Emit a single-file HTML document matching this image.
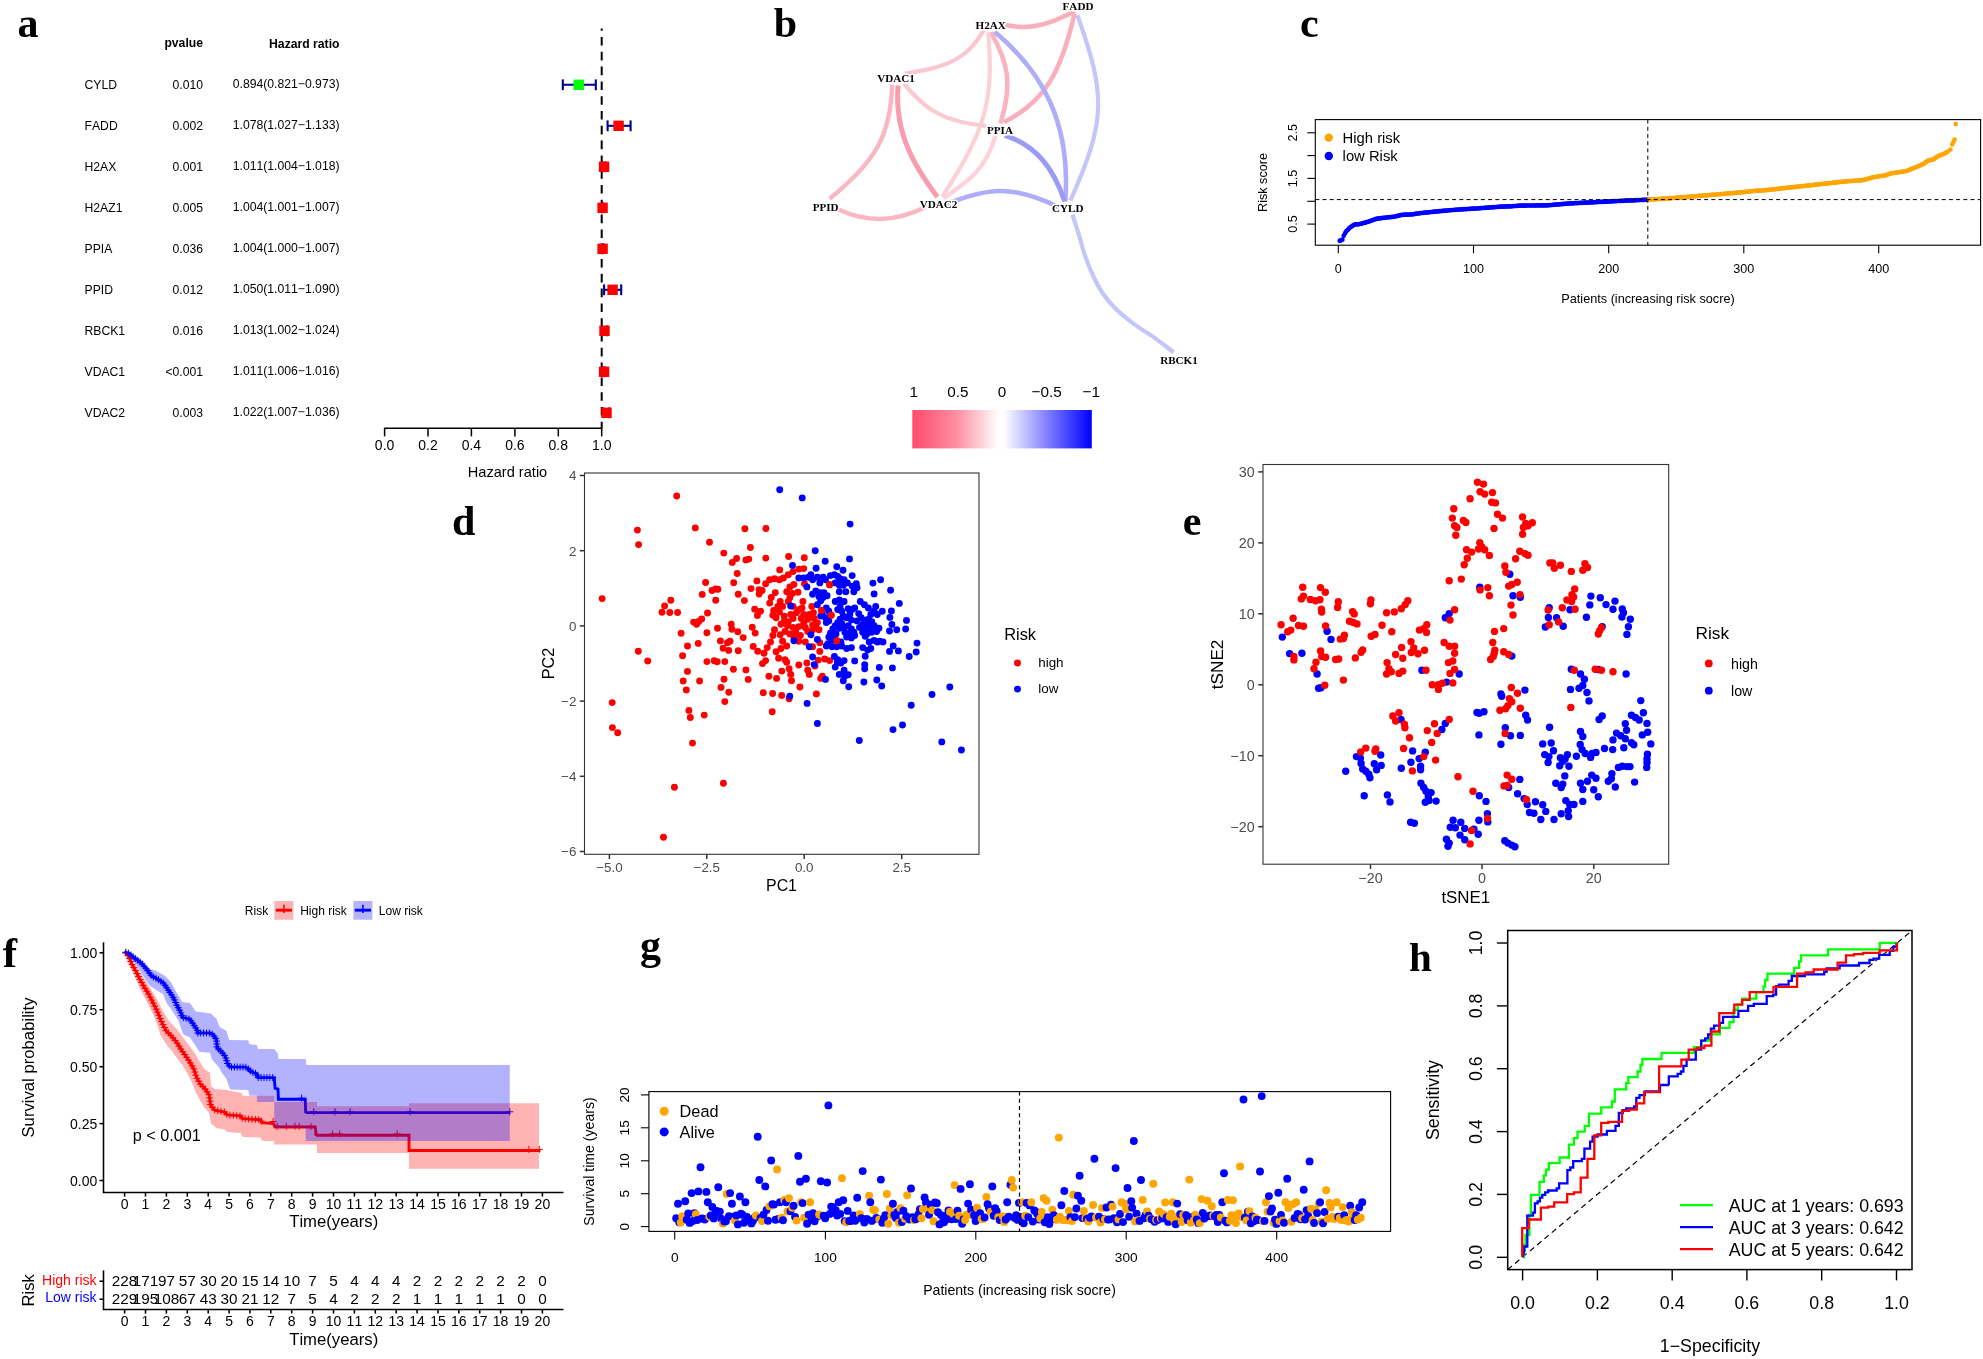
<!DOCTYPE html>
<html lang="en"><head><meta charset="utf-8"><title>Figure</title>
<style>html,body{margin:0;padding:0;background:#fff}svg{display:block}</style></head>
<body>
<svg width="1983" height="1359" viewBox="0 0 1983 1359" font-family='"Liberation Sans", Arial, Helvetica, sans-serif' font-size="12" style="font-kerning:none">
<g id="panel-a">
<text x="17.6" y="36.9" font-size="42" font-weight="bold" font-family='"Liberation Serif", "Times New Roman", serif'>a</text>
<text x="203" y="47" font-size="12.2" text-anchor="end" font-weight="bold">pvalue</text>
<text x="339.5" y="48" font-size="12.2" text-anchor="end" font-weight="bold">Hazard ratio</text>
<text x="84.5" y="89.2" font-size="12.2">CYLD</text>
<text x="203" y="89.2" font-size="12.2" text-anchor="end">0.010</text>
<text x="339.5" y="88.4" font-size="12.2" text-anchor="end">0.894(0.821−0.973)</text>
<text x="84.5" y="130.2" font-size="12.2">FADD</text>
<text x="203" y="130.2" font-size="12.2" text-anchor="end">0.002</text>
<text x="339.5" y="129.4" font-size="12.2" text-anchor="end">1.078(1.027−1.133)</text>
<text x="84.5" y="171.2" font-size="12.2">H2AX</text>
<text x="203" y="171.2" font-size="12.2" text-anchor="end">0.001</text>
<text x="339.5" y="170.4" font-size="12.2" text-anchor="end">1.011(1.004−1.018)</text>
<text x="84.5" y="212.2" font-size="12.2">H2AZ1</text>
<text x="203" y="212.2" font-size="12.2" text-anchor="end">0.005</text>
<text x="339.5" y="211.4" font-size="12.2" text-anchor="end">1.004(1.001−1.007)</text>
<text x="84.5" y="253.2" font-size="12.2">PPIA</text>
<text x="203" y="253.2" font-size="12.2" text-anchor="end">0.036</text>
<text x="339.5" y="252.4" font-size="12.2" text-anchor="end">1.004(1.000−1.007)</text>
<text x="84.5" y="294.2" font-size="12.2">PPID</text>
<text x="203" y="294.2" font-size="12.2" text-anchor="end">0.012</text>
<text x="339.5" y="293.4" font-size="12.2" text-anchor="end">1.050(1.011−1.090)</text>
<text x="84.5" y="335.2" font-size="12.2">RBCK1</text>
<text x="203" y="335.2" font-size="12.2" text-anchor="end">0.016</text>
<text x="339.5" y="334.4" font-size="12.2" text-anchor="end">1.013(1.002−1.024)</text>
<text x="84.5" y="376.2" font-size="12.2">VDAC1</text>
<text x="203" y="376.2" font-size="12.2" text-anchor="end">&lt;0.001</text>
<text x="339.5" y="375.4" font-size="12.2" text-anchor="end">1.011(1.006−1.016)</text>
<text x="84.5" y="417.2" font-size="12.2">VDAC2</text>
<text x="203" y="417.2" font-size="12.2" text-anchor="end">0.003</text>
<text x="339.5" y="416.4" font-size="12.2" text-anchor="end">1.022(1.007−1.036)</text>
<line x1="601.7" y1="28.5" x2="601.7" y2="428" stroke="#000" stroke-width="2" stroke-dasharray="8.6 6.2" stroke-dashoffset="6.3"/>
<line x1="562.8" y1="84.8" x2="595.8" y2="84.8" stroke="#00008B" stroke-width="2.1"/>
<line x1="562.8" y1="79.4" x2="562.8" y2="90.2" stroke="#00008B" stroke-width="2.1"/>
<line x1="595.8" y1="79.4" x2="595.8" y2="90.2" stroke="#00008B" stroke-width="2.1"/>
<rect x="573.5" y="79.6" width="10.4" height="10.4" fill="#00FF00"/>
<line x1="607.6" y1="125.8" x2="630.6" y2="125.8" stroke="#00008B" stroke-width="2.1"/>
<line x1="607.6" y1="120.4" x2="607.6" y2="131.2" stroke="#00008B" stroke-width="2.1"/>
<line x1="630.6" y1="120.4" x2="630.6" y2="131.2" stroke="#00008B" stroke-width="2.1"/>
<rect x="613.4" y="120.6" width="10.4" height="10.4" fill="#FF0000"/>
<line x1="602.6" y1="166.8" x2="605.6" y2="166.8" stroke="#00008B" stroke-width="2.1"/>
<line x1="602.6" y1="161.4" x2="602.6" y2="172.2" stroke="#00008B" stroke-width="2.1"/>
<line x1="605.6" y1="161.4" x2="605.6" y2="172.2" stroke="#00008B" stroke-width="2.1"/>
<rect x="598.9" y="161.6" width="10.4" height="10.4" fill="#FF0000"/>
<line x1="601.9" y1="207.8" x2="603.2" y2="207.8" stroke="#00008B" stroke-width="2.1"/>
<line x1="601.9" y1="202.4" x2="601.9" y2="213.2" stroke="#00008B" stroke-width="2.1"/>
<line x1="603.2" y1="202.4" x2="603.2" y2="213.2" stroke="#00008B" stroke-width="2.1"/>
<rect x="597.4" y="202.6" width="10.4" height="10.4" fill="#FF0000"/>
<line x1="601.7" y1="248.8" x2="603.2" y2="248.8" stroke="#00008B" stroke-width="2.1"/>
<line x1="601.7" y1="243.4" x2="601.7" y2="254.2" stroke="#00008B" stroke-width="2.1"/>
<line x1="603.2" y1="243.4" x2="603.2" y2="254.2" stroke="#00008B" stroke-width="2.1"/>
<rect x="597.4" y="243.6" width="10.4" height="10.4" fill="#FF0000"/>
<line x1="604.1" y1="289.8" x2="621.2" y2="289.8" stroke="#00008B" stroke-width="2.1"/>
<line x1="604.1" y1="284.4" x2="604.1" y2="295.2" stroke="#00008B" stroke-width="2.1"/>
<line x1="621.2" y1="284.4" x2="621.2" y2="295.2" stroke="#00008B" stroke-width="2.1"/>
<rect x="607.4" y="284.6" width="10.4" height="10.4" fill="#FF0000"/>
<line x1="602.1" y1="330.8" x2="606.9" y2="330.8" stroke="#00008B" stroke-width="2.1"/>
<line x1="602.1" y1="325.4" x2="602.1" y2="336.2" stroke="#00008B" stroke-width="2.1"/>
<line x1="606.9" y1="325.4" x2="606.9" y2="336.2" stroke="#00008B" stroke-width="2.1"/>
<rect x="599.3" y="325.6" width="10.4" height="10.4" fill="#FF0000"/>
<line x1="603" y1="371.8" x2="605.2" y2="371.8" stroke="#00008B" stroke-width="2.1"/>
<line x1="603" y1="366.4" x2="603" y2="377.2" stroke="#00008B" stroke-width="2.1"/>
<line x1="605.2" y1="366.4" x2="605.2" y2="377.2" stroke="#00008B" stroke-width="2.1"/>
<rect x="598.9" y="366.6" width="10.4" height="10.4" fill="#FF0000"/>
<line x1="603.2" y1="412.8" x2="609.5" y2="412.8" stroke="#00008B" stroke-width="2.1"/>
<line x1="603.2" y1="407.4" x2="603.2" y2="418.2" stroke="#00008B" stroke-width="2.1"/>
<line x1="609.5" y1="407.4" x2="609.5" y2="418.2" stroke="#00008B" stroke-width="2.1"/>
<rect x="601.3" y="407.6" width="10.4" height="10.4" fill="#FF0000"/>
<line x1="383.9" y1="428.3" x2="602.4" y2="428.3" stroke="#000" stroke-width="1.5"/>
<line x1="384.6" y1="428.3" x2="384.6" y2="436.4" stroke="#000" stroke-width="1.5"/>
<text x="384.6" y="450.2" font-size="14" text-anchor="middle">0.0</text>
<line x1="428" y1="428.3" x2="428" y2="436.4" stroke="#000" stroke-width="1.5"/>
<text x="428" y="450.2" font-size="14" text-anchor="middle">0.2</text>
<line x1="471.4" y1="428.3" x2="471.4" y2="436.4" stroke="#000" stroke-width="1.5"/>
<text x="471.4" y="450.2" font-size="14" text-anchor="middle">0.4</text>
<line x1="514.9" y1="428.3" x2="514.9" y2="436.4" stroke="#000" stroke-width="1.5"/>
<text x="514.9" y="450.2" font-size="14" text-anchor="middle">0.6</text>
<line x1="558.3" y1="428.3" x2="558.3" y2="436.4" stroke="#000" stroke-width="1.5"/>
<text x="558.3" y="450.2" font-size="14" text-anchor="middle">0.8</text>
<line x1="601.7" y1="428.3" x2="601.7" y2="436.4" stroke="#000" stroke-width="1.5"/>
<text x="601.7" y="450.2" font-size="14" text-anchor="middle">1.0</text>
<text x="507.5" y="477" font-size="14.6" text-anchor="middle">Hazard ratio</text>
</g>
<g id="panel-b">
<text x="773.8" y="37.2" font-size="42" font-weight="bold" font-family='"Liberation Serif", "Times New Roman", serif'>b</text>
<g style="mix-blend-mode:multiply">
<path d="M1005.6 25 C1025.1 29.1 1043.7 27.9 1075 11" fill="none" stroke="#FAB0BC" stroke-width="4.6" stroke-linecap="butt"/>
<path d="M983.6 30.5 C969.2 55.8 952.3 66.8 904.9 73.6" fill="none" stroke="#FBC6CF" stroke-width="4.2" stroke-linecap="butt"/>
<path d="M892.2 84.6 C890.5 135.4 876.2 160.8 829.6 198.8" fill="none" stroke="#FAB6C1" stroke-width="4.4" stroke-linecap="butt"/>
<path d="M898.1 85.5 C893.9 135.4 916.8 169.2 937.4 197.1" fill="none" stroke="#F89DAD" stroke-width="5.0" stroke-linecap="butt"/>
<path d="M904.1 83.8 C926.9 111.7 943.8 121 986.1 126.1" fill="none" stroke="#FBC9D2" stroke-width="4.2" stroke-linecap="butt"/>
<path d="M990.9 32.2 C1009 64.3 1012.4 84.6 1000.5 123.5" fill="none" stroke="#FAB3BF" stroke-width="4.6" stroke-linecap="butt"/>
<path d="M988.2 32.2 C993.8 101.5 986.1 128.6 942.1 197.1" fill="none" stroke="#FCD0D7" stroke-width="4.2" stroke-linecap="butt"/>
<path d="M995.5 135.4 C986.1 169.2 969.2 180.2 943.8 198.3" fill="none" stroke="#FCD3DA" stroke-width="4.2" stroke-linecap="butt"/>
<path d="M1003.9 122.2 C1045.4 101.5 1061.4 71.1 1074.5 13.5" fill="none" stroke="#FAB0BC" stroke-width="4.6" stroke-linecap="butt"/>
<path d="M838.9 209.8 C867.7 222.5 894.8 222.5 926.1 206.8" fill="none" stroke="#FAB6C1" stroke-width="4.4" stroke-linecap="butt"/>
<path d="M994.6 31.8 C1043.7 72.8 1070.8 123.5 1065.3 201.4" fill="none" stroke="#AEADF7" stroke-width="4.6" stroke-linecap="butt"/>
<path d="M1004.8 135.4 C1036.9 145.5 1053.8 169.2 1064.8 201.4" fill="none" stroke="#9B9AF5" stroke-width="5.0" stroke-linecap="butt"/>
<path d="M947.2 203.6 C986.1 188.7 1011.5 183.6 1058.9 207.3" fill="none" stroke="#AEADF7" stroke-width="4.6" stroke-linecap="butt"/>
<path d="M1077.5 15.2 C1105.4 94.8 1107.1 118.5 1070.4 200.5" fill="none" stroke="#C6C5F9" stroke-width="4.2" stroke-linecap="butt"/>
</g>
<path d="M1072.5 214.6 C1073.4 217.7 1076.3 226.3 1078.4 233.1 C1080.5 240 1082.6 248.6 1085 255.6 C1087.5 262.7 1090.1 269.3 1093 275.5 C1095.8 281.7 1098.7 287.4 1102.3 292.7 C1105.8 298 1109.1 302.2 1114.2 307.3 C1119.2 312.4 1126.3 318.3 1132.7 323.2 C1139.1 328 1145.7 331.6 1152.6 336.4 C1159.4 341.3 1170.2 349.7 1173.8 352.3" fill="none" stroke="#C6C5F9" stroke-width="4.2"/>
<text x="1078" y="10.2" font-size="11.1" text-anchor="middle" font-weight="bold" font-family='"Liberation Serif", "Times New Roman", serif' stroke="#fff" stroke-width="3" paint-order="stroke" stroke-linejoin="round">FADD</text>
<text x="990.7" y="28.6" font-size="11.1" text-anchor="middle" font-weight="bold" font-family='"Liberation Serif", "Times New Roman", serif' stroke="#fff" stroke-width="3" paint-order="stroke" stroke-linejoin="round">H2AX</text>
<text x="896" y="82" font-size="11.1" text-anchor="middle" font-weight="bold" font-family='"Liberation Serif", "Times New Roman", serif' stroke="#fff" stroke-width="3" paint-order="stroke" stroke-linejoin="round">VDAC1</text>
<text x="1000" y="134.2" font-size="11.1" text-anchor="middle" font-weight="bold" font-family='"Liberation Serif", "Times New Roman", serif' stroke="#fff" stroke-width="3" paint-order="stroke" stroke-linejoin="round">PPIA</text>
<text x="825.6" y="211.1" font-size="11.1" text-anchor="middle" font-weight="bold" font-family='"Liberation Serif", "Times New Roman", serif' stroke="#fff" stroke-width="3" paint-order="stroke" stroke-linejoin="round">PPID</text>
<text x="938.5" y="207.6" font-size="11.1" text-anchor="middle" font-weight="bold" font-family='"Liberation Serif", "Times New Roman", serif' stroke="#fff" stroke-width="3" paint-order="stroke" stroke-linejoin="round">VDAC2</text>
<text x="1067.8" y="211.6" font-size="11.1" text-anchor="middle" font-weight="bold" font-family='"Liberation Serif", "Times New Roman", serif' stroke="#fff" stroke-width="3" paint-order="stroke" stroke-linejoin="round">CYLD</text>
<text x="1179" y="363.6" font-size="11.1" text-anchor="middle" font-weight="bold" font-family='"Liberation Serif", "Times New Roman", serif' stroke="#fff" stroke-width="3" paint-order="stroke" stroke-linejoin="round">RBCK1</text>
<defs><linearGradient id="cb" x1="0" x2="1" y1="0" y2="0"><stop offset="0" stop-color="#FF4B6C"/><stop offset="0.25" stop-color="#FC8FA2"/><stop offset="0.48" stop-color="#FFFFFF"/><stop offset="0.51" stop-color="#FFFFFF"/><stop offset="0.75" stop-color="#8080FF"/><stop offset="1" stop-color="#0000FF"/></linearGradient></defs>
<rect x="912.3" y="410" width="179.5" height="38.4" fill="url(#cb)"/>
<text x="913.8" y="396.7" font-size="15.3" text-anchor="middle">1</text>
<text x="958" y="396.7" font-size="15.3" text-anchor="middle">0.5</text>
<text x="1002" y="396.7" font-size="15.3" text-anchor="middle">0</text>
<text x="1046.6" y="396.7" font-size="15.3" text-anchor="middle">−0.5</text>
<text x="1091.3" y="396.7" font-size="15.3" text-anchor="middle">−1</text>
</g>
<g id="panel-c">
<text x="1300" y="36.9" font-size="42" font-weight="bold" font-family='"Liberation Serif", "Times New Roman", serif'>c</text>
<g fill="#0000FF">
<circle cx="1339.7" cy="240.8" r="2.35"/><circle cx="1341" cy="240.3" r="2.35"/><circle cx="1342.4" cy="239.7" r="2.35"/><circle cx="1343.7" cy="235.8" r="2.35"/><circle cx="1345.1" cy="233.2" r="2.35"/><circle cx="1346.4" cy="231.1" r="2.35"/><circle cx="1347.8" cy="229.8" r="2.35"/><circle cx="1349.1" cy="228.4" r="2.35"/><circle cx="1350.5" cy="227.2" r="2.35"/><circle cx="1351.8" cy="226.3" r="2.35"/><circle cx="1353.2" cy="225.4" r="2.35"/><circle cx="1354.5" cy="224.5" r="2.35"/><circle cx="1355.9" cy="224.3" r="2.35"/><circle cx="1357.2" cy="224.3" r="2.35"/><circle cx="1358.6" cy="224.3" r="2.35"/><circle cx="1359.9" cy="224" r="2.35"/><circle cx="1361.3" cy="223.6" r="2.35"/><circle cx="1362.6" cy="223.3" r="2.35"/><circle cx="1364" cy="222.9" r="2.35"/><circle cx="1365.3" cy="222.6" r="2.35"/><circle cx="1366.7" cy="222.2" r="2.35"/><circle cx="1368" cy="221.8" r="2.35"/><circle cx="1369.4" cy="221.3" r="2.35"/><circle cx="1370.7" cy="220.8" r="2.35"/><circle cx="1372.1" cy="220.3" r="2.35"/><circle cx="1373.4" cy="219.8" r="2.35"/><circle cx="1374.8" cy="219.4" r="2.35"/><circle cx="1376.1" cy="218.9" r="2.35"/><circle cx="1377.5" cy="218.6" r="2.35"/><circle cx="1378.8" cy="218.4" r="2.35"/><circle cx="1380.2" cy="218.3" r="2.35"/><circle cx="1381.5" cy="218.1" r="2.35"/><circle cx="1382.9" cy="217.9" r="2.35"/><circle cx="1384.2" cy="217.8" r="2.35"/><circle cx="1385.6" cy="217.6" r="2.35"/><circle cx="1386.9" cy="217.5" r="2.35"/><circle cx="1388.3" cy="217.3" r="2.35"/><circle cx="1389.6" cy="217.2" r="2.35"/><circle cx="1391" cy="217.1" r="2.35"/><circle cx="1392.3" cy="216.9" r="2.35"/><circle cx="1393.7" cy="216.8" r="2.35"/><circle cx="1395" cy="216.5" r="2.35"/><circle cx="1396.4" cy="216.2" r="2.35"/><circle cx="1397.7" cy="215.9" r="2.35"/><circle cx="1399.1" cy="215.6" r="2.35"/><circle cx="1400.4" cy="215.2" r="2.35"/><circle cx="1401.8" cy="214.9" r="2.35"/><circle cx="1403.1" cy="214.8" r="2.35"/><circle cx="1404.5" cy="214.7" r="2.35"/><circle cx="1405.8" cy="214.7" r="2.35"/><circle cx="1407.2" cy="214.6" r="2.35"/><circle cx="1408.6" cy="214.6" r="2.35"/><circle cx="1409.9" cy="214.5" r="2.35"/><circle cx="1411.3" cy="214.5" r="2.35"/><circle cx="1412.6" cy="214.3" r="2.35"/><circle cx="1414" cy="214.1" r="2.35"/><circle cx="1415.3" cy="213.9" r="2.35"/><circle cx="1416.7" cy="213.7" r="2.35"/><circle cx="1418" cy="213.5" r="2.35"/><circle cx="1419.4" cy="213.3" r="2.35"/><circle cx="1420.7" cy="213.1" r="2.35"/><circle cx="1422.1" cy="213" r="2.35"/><circle cx="1423.4" cy="212.8" r="2.35"/><circle cx="1424.8" cy="212.7" r="2.35"/><circle cx="1426.1" cy="212.5" r="2.35"/><circle cx="1427.5" cy="212.4" r="2.35"/><circle cx="1428.8" cy="212.3" r="2.35"/><circle cx="1430.2" cy="212.1" r="2.35"/><circle cx="1431.5" cy="212" r="2.35"/><circle cx="1432.9" cy="211.9" r="2.35"/><circle cx="1434.2" cy="211.7" r="2.35"/><circle cx="1435.6" cy="211.6" r="2.35"/><circle cx="1436.9" cy="211.5" r="2.35"/><circle cx="1438.3" cy="211.3" r="2.35"/><circle cx="1439.6" cy="211.2" r="2.35"/><circle cx="1441" cy="211.1" r="2.35"/><circle cx="1442.3" cy="210.9" r="2.35"/><circle cx="1443.7" cy="210.8" r="2.35"/><circle cx="1445" cy="210.7" r="2.35"/><circle cx="1446.4" cy="210.6" r="2.35"/><circle cx="1447.7" cy="210.5" r="2.35"/><circle cx="1449.1" cy="210.3" r="2.35"/><circle cx="1450.4" cy="210.2" r="2.35"/><circle cx="1451.8" cy="210.1" r="2.35"/><circle cx="1453.1" cy="210" r="2.35"/><circle cx="1454.5" cy="209.9" r="2.35"/><circle cx="1455.8" cy="209.8" r="2.35"/><circle cx="1457.2" cy="209.7" r="2.35"/><circle cx="1458.5" cy="209.6" r="2.35"/><circle cx="1459.9" cy="209.5" r="2.35"/><circle cx="1461.2" cy="209.4" r="2.35"/><circle cx="1462.6" cy="209.3" r="2.35"/><circle cx="1463.9" cy="209.2" r="2.35"/><circle cx="1465.3" cy="209.2" r="2.35"/><circle cx="1466.6" cy="209.1" r="2.35"/><circle cx="1468" cy="209" r="2.35"/><circle cx="1469.3" cy="208.9" r="2.35"/><circle cx="1470.7" cy="208.8" r="2.35"/><circle cx="1472" cy="208.7" r="2.35"/><circle cx="1473.4" cy="208.7" r="2.35"/><circle cx="1474.8" cy="208.6" r="2.35"/><circle cx="1476.1" cy="208.5" r="2.35"/><circle cx="1477.5" cy="208.4" r="2.35"/><circle cx="1478.8" cy="208.3" r="2.35"/><circle cx="1480.2" cy="208.2" r="2.35"/><circle cx="1481.5" cy="208.1" r="2.35"/><circle cx="1482.9" cy="208" r="2.35"/><circle cx="1484.2" cy="207.9" r="2.35"/><circle cx="1485.6" cy="207.8" r="2.35"/><circle cx="1486.9" cy="207.7" r="2.35"/><circle cx="1488.3" cy="207.7" r="2.35"/><circle cx="1489.6" cy="207.5" r="2.35"/><circle cx="1491" cy="207.4" r="2.35"/><circle cx="1492.3" cy="207.3" r="2.35"/><circle cx="1493.7" cy="207.2" r="2.35"/><circle cx="1495" cy="207.1" r="2.35"/><circle cx="1496.4" cy="207" r="2.35"/><circle cx="1497.7" cy="206.9" r="2.35"/><circle cx="1499.1" cy="206.8" r="2.35"/><circle cx="1500.4" cy="206.7" r="2.35"/><circle cx="1501.8" cy="206.7" r="2.35"/><circle cx="1503.1" cy="206.6" r="2.35"/><circle cx="1504.5" cy="206.6" r="2.35"/><circle cx="1505.8" cy="206.5" r="2.35"/><circle cx="1507.2" cy="206.4" r="2.35"/><circle cx="1508.5" cy="206.4" r="2.35"/><circle cx="1509.9" cy="206.3" r="2.35"/><circle cx="1511.2" cy="206.3" r="2.35"/><circle cx="1512.6" cy="206.2" r="2.35"/><circle cx="1513.9" cy="206.1" r="2.35"/><circle cx="1515.3" cy="206" r="2.35"/><circle cx="1516.6" cy="205.9" r="2.35"/><circle cx="1518" cy="205.8" r="2.35"/><circle cx="1519.3" cy="205.7" r="2.35"/><circle cx="1520.7" cy="205.6" r="2.35"/><circle cx="1522" cy="205.6" r="2.35"/><circle cx="1523.4" cy="205.6" r="2.35"/><circle cx="1524.7" cy="205.6" r="2.35"/><circle cx="1526.1" cy="205.6" r="2.35"/><circle cx="1527.4" cy="205.5" r="2.35"/><circle cx="1528.8" cy="205.5" r="2.35"/><circle cx="1530.1" cy="205.5" r="2.35"/><circle cx="1531.5" cy="205.5" r="2.35"/><circle cx="1532.8" cy="205.5" r="2.35"/><circle cx="1534.2" cy="205.5" r="2.35"/><circle cx="1535.5" cy="205.5" r="2.35"/><circle cx="1536.9" cy="205.4" r="2.35"/><circle cx="1538.2" cy="205.4" r="2.35"/><circle cx="1539.6" cy="205.4" r="2.35"/><circle cx="1541" cy="205.4" r="2.35"/><circle cx="1542.3" cy="205.4" r="2.35"/><circle cx="1543.7" cy="205.4" r="2.35"/><circle cx="1545" cy="205.4" r="2.35"/><circle cx="1546.4" cy="205.3" r="2.35"/><circle cx="1547.7" cy="205.3" r="2.35"/><circle cx="1549.1" cy="205.2" r="2.35"/><circle cx="1550.4" cy="205.1" r="2.35"/><circle cx="1551.8" cy="205" r="2.35"/><circle cx="1553.1" cy="204.8" r="2.35"/><circle cx="1554.5" cy="204.7" r="2.35"/><circle cx="1555.8" cy="204.6" r="2.35"/><circle cx="1557.2" cy="204.5" r="2.35"/><circle cx="1558.5" cy="204.4" r="2.35"/><circle cx="1559.9" cy="204.3" r="2.35"/><circle cx="1561.2" cy="204.2" r="2.35"/><circle cx="1562.6" cy="204.1" r="2.35"/><circle cx="1563.9" cy="203.9" r="2.35"/><circle cx="1565.3" cy="203.8" r="2.35"/><circle cx="1566.6" cy="203.7" r="2.35"/><circle cx="1568" cy="203.6" r="2.35"/><circle cx="1569.3" cy="203.5" r="2.35"/><circle cx="1570.7" cy="203.4" r="2.35"/><circle cx="1572" cy="203.3" r="2.35"/><circle cx="1573.4" cy="203.3" r="2.35"/><circle cx="1574.7" cy="203.2" r="2.35"/><circle cx="1576.1" cy="203.1" r="2.35"/><circle cx="1577.4" cy="203.1" r="2.35"/><circle cx="1578.8" cy="203" r="2.35"/><circle cx="1580.1" cy="202.9" r="2.35"/><circle cx="1581.5" cy="202.9" r="2.35"/><circle cx="1582.8" cy="202.8" r="2.35"/><circle cx="1584.2" cy="202.7" r="2.35"/><circle cx="1585.5" cy="202.7" r="2.35"/><circle cx="1586.9" cy="202.6" r="2.35"/><circle cx="1588.2" cy="202.5" r="2.35"/><circle cx="1589.6" cy="202.5" r="2.35"/><circle cx="1590.9" cy="202.4" r="2.35"/><circle cx="1592.3" cy="202.3" r="2.35"/><circle cx="1593.6" cy="202.3" r="2.35"/><circle cx="1595" cy="202.2" r="2.35"/><circle cx="1596.3" cy="202.1" r="2.35"/><circle cx="1597.7" cy="202.1" r="2.35"/><circle cx="1599" cy="202" r="2.35"/><circle cx="1600.4" cy="201.9" r="2.35"/><circle cx="1601.7" cy="201.9" r="2.35"/><circle cx="1603.1" cy="201.8" r="2.35"/><circle cx="1604.4" cy="201.7" r="2.35"/><circle cx="1605.8" cy="201.7" r="2.35"/><circle cx="1607.1" cy="201.6" r="2.35"/><circle cx="1608.5" cy="201.5" r="2.35"/><circle cx="1609.9" cy="201.4" r="2.35"/><circle cx="1611.2" cy="201.4" r="2.35"/><circle cx="1612.6" cy="201.3" r="2.35"/><circle cx="1613.9" cy="201.2" r="2.35"/><circle cx="1615.3" cy="201.2" r="2.35"/><circle cx="1616.6" cy="201.1" r="2.35"/><circle cx="1618" cy="201" r="2.35"/><circle cx="1619.3" cy="201" r="2.35"/><circle cx="1620.7" cy="200.9" r="2.35"/><circle cx="1622" cy="200.8" r="2.35"/><circle cx="1623.4" cy="200.8" r="2.35"/><circle cx="1624.7" cy="200.7" r="2.35"/><circle cx="1626.1" cy="200.6" r="2.35"/><circle cx="1627.4" cy="200.6" r="2.35"/><circle cx="1628.8" cy="200.5" r="2.35"/><circle cx="1630.1" cy="200.4" r="2.35"/><circle cx="1631.5" cy="200.4" r="2.35"/><circle cx="1632.8" cy="200.3" r="2.35"/><circle cx="1634.2" cy="200.3" r="2.35"/><circle cx="1635.5" cy="200.2" r="2.35"/><circle cx="1636.9" cy="200.2" r="2.35"/><circle cx="1638.2" cy="200.1" r="2.35"/><circle cx="1639.6" cy="200" r="2.35"/><circle cx="1640.9" cy="200" r="2.35"/><circle cx="1642.3" cy="199.9" r="2.35"/><circle cx="1643.6" cy="199.9" r="2.35"/><circle cx="1645" cy="199.8" r="2.35"/><circle cx="1646.3" cy="199.8" r="2.35"/><circle cx="1647.7" cy="199.7" r="2.35"/>
</g>
<g fill="#FFA500">
<circle cx="1649" cy="199.6" r="2.35"/><circle cx="1650.4" cy="199.5" r="2.35"/><circle cx="1651.7" cy="199.4" r="2.35"/><circle cx="1653.1" cy="199.4" r="2.35"/><circle cx="1654.4" cy="199.3" r="2.35"/><circle cx="1655.8" cy="199.2" r="2.35"/><circle cx="1657.1" cy="199.1" r="2.35"/><circle cx="1658.5" cy="199" r="2.35"/><circle cx="1659.8" cy="198.9" r="2.35"/><circle cx="1661.2" cy="198.8" r="2.35"/><circle cx="1662.5" cy="198.7" r="2.35"/><circle cx="1663.9" cy="198.7" r="2.35"/><circle cx="1665.2" cy="198.6" r="2.35"/><circle cx="1666.6" cy="198.5" r="2.35"/><circle cx="1667.9" cy="198.4" r="2.35"/><circle cx="1669.3" cy="198.3" r="2.35"/><circle cx="1670.6" cy="198.2" r="2.35"/><circle cx="1672" cy="198.1" r="2.35"/><circle cx="1673.3" cy="198" r="2.35"/><circle cx="1674.7" cy="197.9" r="2.35"/><circle cx="1676" cy="197.8" r="2.35"/><circle cx="1677.4" cy="197.7" r="2.35"/><circle cx="1678.8" cy="197.6" r="2.35"/><circle cx="1680.1" cy="197.5" r="2.35"/><circle cx="1681.5" cy="197.4" r="2.35"/><circle cx="1682.8" cy="197.3" r="2.35"/><circle cx="1684.2" cy="197.1" r="2.35"/><circle cx="1685.5" cy="197" r="2.35"/><circle cx="1686.9" cy="196.9" r="2.35"/><circle cx="1688.2" cy="196.8" r="2.35"/><circle cx="1689.6" cy="196.7" r="2.35"/><circle cx="1690.9" cy="196.6" r="2.35"/><circle cx="1692.3" cy="196.5" r="2.35"/><circle cx="1693.6" cy="196.4" r="2.35"/><circle cx="1695" cy="196.3" r="2.35"/><circle cx="1696.3" cy="196.2" r="2.35"/><circle cx="1697.7" cy="196" r="2.35"/><circle cx="1699" cy="195.9" r="2.35"/><circle cx="1700.4" cy="195.8" r="2.35"/><circle cx="1701.7" cy="195.7" r="2.35"/><circle cx="1703.1" cy="195.6" r="2.35"/><circle cx="1704.4" cy="195.5" r="2.35"/><circle cx="1705.8" cy="195.4" r="2.35"/><circle cx="1707.1" cy="195.3" r="2.35"/><circle cx="1708.5" cy="195.1" r="2.35"/><circle cx="1709.8" cy="195" r="2.35"/><circle cx="1711.2" cy="194.9" r="2.35"/><circle cx="1712.5" cy="194.8" r="2.35"/><circle cx="1713.9" cy="194.7" r="2.35"/><circle cx="1715.2" cy="194.6" r="2.35"/><circle cx="1716.6" cy="194.5" r="2.35"/><circle cx="1717.9" cy="194.4" r="2.35"/><circle cx="1719.3" cy="194.2" r="2.35"/><circle cx="1720.6" cy="194.1" r="2.35"/><circle cx="1722" cy="194" r="2.35"/><circle cx="1723.3" cy="193.9" r="2.35"/><circle cx="1724.7" cy="193.8" r="2.35"/><circle cx="1726" cy="193.7" r="2.35"/><circle cx="1727.4" cy="193.6" r="2.35"/><circle cx="1728.7" cy="193.4" r="2.35"/><circle cx="1730.1" cy="193.3" r="2.35"/><circle cx="1731.4" cy="193.2" r="2.35"/><circle cx="1732.8" cy="193.1" r="2.35"/><circle cx="1734.1" cy="193" r="2.35"/><circle cx="1735.5" cy="192.9" r="2.35"/><circle cx="1736.8" cy="192.7" r="2.35"/><circle cx="1738.2" cy="192.6" r="2.35"/><circle cx="1739.5" cy="192.5" r="2.35"/><circle cx="1740.9" cy="192.3" r="2.35"/><circle cx="1742.2" cy="192.2" r="2.35"/><circle cx="1743.6" cy="192.1" r="2.35"/><circle cx="1745" cy="191.9" r="2.35"/><circle cx="1746.3" cy="191.8" r="2.35"/><circle cx="1747.7" cy="191.7" r="2.35"/><circle cx="1749" cy="191.5" r="2.35"/><circle cx="1750.4" cy="191.4" r="2.35"/><circle cx="1751.7" cy="191.3" r="2.35"/><circle cx="1753.1" cy="191.1" r="2.35"/><circle cx="1754.4" cy="191" r="2.35"/><circle cx="1755.8" cy="190.8" r="2.35"/><circle cx="1757.1" cy="190.7" r="2.35"/><circle cx="1758.5" cy="190.6" r="2.35"/><circle cx="1759.8" cy="190.6" r="2.35"/><circle cx="1761.2" cy="190.5" r="2.35"/><circle cx="1762.5" cy="190.5" r="2.35"/><circle cx="1763.9" cy="190.3" r="2.35"/><circle cx="1765.2" cy="190.2" r="2.35"/><circle cx="1766.6" cy="190.1" r="2.35"/><circle cx="1767.9" cy="189.9" r="2.35"/><circle cx="1769.3" cy="189.8" r="2.35"/><circle cx="1770.6" cy="189.7" r="2.35"/><circle cx="1772" cy="189.5" r="2.35"/><circle cx="1773.3" cy="189.4" r="2.35"/><circle cx="1774.7" cy="189.3" r="2.35"/><circle cx="1776" cy="189.1" r="2.35"/><circle cx="1777.4" cy="188.9" r="2.35"/><circle cx="1778.7" cy="188.8" r="2.35"/><circle cx="1780.1" cy="188.6" r="2.35"/><circle cx="1781.4" cy="188.4" r="2.35"/><circle cx="1782.8" cy="188.3" r="2.35"/><circle cx="1784.1" cy="188.1" r="2.35"/><circle cx="1785.5" cy="188" r="2.35"/><circle cx="1786.8" cy="187.8" r="2.35"/><circle cx="1788.2" cy="187.7" r="2.35"/><circle cx="1789.5" cy="187.5" r="2.35"/><circle cx="1790.9" cy="187.4" r="2.35"/><circle cx="1792.2" cy="187.2" r="2.35"/><circle cx="1793.6" cy="187.1" r="2.35"/><circle cx="1794.9" cy="186.9" r="2.35"/><circle cx="1796.3" cy="186.8" r="2.35"/><circle cx="1797.6" cy="186.6" r="2.35"/><circle cx="1799" cy="186.5" r="2.35"/><circle cx="1800.3" cy="186.4" r="2.35"/><circle cx="1801.7" cy="186.2" r="2.35"/><circle cx="1803" cy="186.1" r="2.35"/><circle cx="1804.4" cy="186" r="2.35"/><circle cx="1805.7" cy="185.8" r="2.35"/><circle cx="1807.1" cy="185.7" r="2.35"/><circle cx="1808.4" cy="185.5" r="2.35"/><circle cx="1809.8" cy="185.4" r="2.35"/><circle cx="1811.1" cy="185.2" r="2.35"/><circle cx="1812.5" cy="185" r="2.35"/><circle cx="1813.9" cy="184.9" r="2.35"/><circle cx="1815.2" cy="184.7" r="2.35"/><circle cx="1816.6" cy="184.6" r="2.35"/><circle cx="1817.9" cy="184.4" r="2.35"/><circle cx="1819.3" cy="184.3" r="2.35"/><circle cx="1820.6" cy="184.1" r="2.35"/><circle cx="1822" cy="184" r="2.35"/><circle cx="1823.3" cy="183.8" r="2.35"/><circle cx="1824.7" cy="183.7" r="2.35"/><circle cx="1826" cy="183.6" r="2.35"/><circle cx="1827.4" cy="183.4" r="2.35"/><circle cx="1828.7" cy="183.3" r="2.35"/><circle cx="1830.1" cy="183.2" r="2.35"/><circle cx="1831.4" cy="183" r="2.35"/><circle cx="1832.8" cy="182.8" r="2.35"/><circle cx="1834.1" cy="182.7" r="2.35"/><circle cx="1835.5" cy="182.5" r="2.35"/><circle cx="1836.8" cy="182.4" r="2.35"/><circle cx="1838.2" cy="182.2" r="2.35"/><circle cx="1839.5" cy="182" r="2.35"/><circle cx="1840.9" cy="181.9" r="2.35"/><circle cx="1842.2" cy="181.8" r="2.35"/><circle cx="1843.6" cy="181.7" r="2.35"/><circle cx="1844.9" cy="181.5" r="2.35"/><circle cx="1846.3" cy="181.4" r="2.35"/><circle cx="1847.6" cy="181.3" r="2.35"/><circle cx="1849" cy="181.2" r="2.35"/><circle cx="1850.3" cy="181.1" r="2.35"/><circle cx="1851.7" cy="181" r="2.35"/><circle cx="1853" cy="180.9" r="2.35"/><circle cx="1854.4" cy="180.8" r="2.35"/><circle cx="1855.7" cy="180.7" r="2.35"/><circle cx="1857.1" cy="180.6" r="2.35"/><circle cx="1858.4" cy="180.5" r="2.35"/><circle cx="1859.8" cy="180.4" r="2.35"/><circle cx="1861.1" cy="180.3" r="2.35"/><circle cx="1862.5" cy="180.1" r="2.35"/><circle cx="1863.8" cy="179.9" r="2.35"/><circle cx="1865.2" cy="179.5" r="2.35"/><circle cx="1866.5" cy="179.2" r="2.35"/><circle cx="1867.9" cy="178.9" r="2.35"/><circle cx="1869.2" cy="178.5" r="2.35"/><circle cx="1870.6" cy="178.1" r="2.35"/><circle cx="1871.9" cy="177.7" r="2.35"/><circle cx="1873.3" cy="177.3" r="2.35"/><circle cx="1874.6" cy="177" r="2.35"/><circle cx="1876" cy="176.8" r="2.35"/><circle cx="1877.3" cy="176.6" r="2.35"/><circle cx="1878.7" cy="176.4" r="2.35"/><circle cx="1880.1" cy="176.2" r="2.35"/><circle cx="1881.4" cy="176" r="2.35"/><circle cx="1882.8" cy="175.8" r="2.35"/><circle cx="1884.1" cy="175.6" r="2.35"/><circle cx="1885.5" cy="175.3" r="2.35"/><circle cx="1886.8" cy="174.8" r="2.35"/><circle cx="1888.2" cy="174.3" r="2.35"/><circle cx="1889.5" cy="173.8" r="2.35"/><circle cx="1890.9" cy="173.4" r="2.35"/><circle cx="1892.2" cy="173.2" r="2.35"/><circle cx="1893.6" cy="173" r="2.35"/><circle cx="1894.9" cy="172.8" r="2.35"/><circle cx="1896.3" cy="172.6" r="2.35"/><circle cx="1897.6" cy="172.5" r="2.35"/><circle cx="1899" cy="172.2" r="2.35"/><circle cx="1900.3" cy="172" r="2.35"/><circle cx="1901.7" cy="171.8" r="2.35"/><circle cx="1903" cy="171.5" r="2.35"/><circle cx="1904.4" cy="171.3" r="2.35"/><circle cx="1905.7" cy="171.1" r="2.35"/><circle cx="1907.1" cy="170.8" r="2.35"/><circle cx="1908.4" cy="170.3" r="2.35"/><circle cx="1909.8" cy="169.7" r="2.35"/><circle cx="1911.1" cy="169.2" r="2.35"/><circle cx="1912.5" cy="168.6" r="2.35"/><circle cx="1913.8" cy="168.1" r="2.35"/><circle cx="1915.2" cy="167.5" r="2.35"/><circle cx="1916.5" cy="167" r="2.35"/><circle cx="1917.9" cy="166.4" r="2.35"/><circle cx="1919.2" cy="165.8" r="2.35"/><circle cx="1920.6" cy="165.2" r="2.35"/><circle cx="1921.9" cy="164.6" r="2.35"/><circle cx="1923.3" cy="164.1" r="2.35"/><circle cx="1924.6" cy="163.2" r="2.35"/><circle cx="1926" cy="162.2" r="2.35"/><circle cx="1927.3" cy="161.2" r="2.35"/><circle cx="1928.7" cy="160.4" r="2.35"/><circle cx="1930" cy="160.2" r="2.35"/><circle cx="1931.4" cy="159.9" r="2.35"/><circle cx="1932.7" cy="159.7" r="2.35"/><circle cx="1934.1" cy="158.8" r="2.35"/><circle cx="1935.4" cy="157.9" r="2.35"/><circle cx="1936.8" cy="157" r="2.35"/><circle cx="1938.1" cy="156.1" r="2.35"/><circle cx="1939.5" cy="155.6" r="2.35"/><circle cx="1940.8" cy="155.1" r="2.35"/><circle cx="1942.2" cy="154.6" r="2.35"/><circle cx="1943.5" cy="154" r="2.35"/><circle cx="1944.9" cy="153.3" r="2.35"/><circle cx="1946.2" cy="152.6" r="2.35"/><circle cx="1947.6" cy="151.7" r="2.35"/><circle cx="1950.5" cy="149.5" r="2.35"/><circle cx="1952.2" cy="144.5" r="2.35"/><circle cx="1953.4" cy="142" r="2.35"/><circle cx="1954.6" cy="139.5" r="2.35"/><circle cx="1955.7" cy="124.1" r="2.35"/>
</g>
<line x1="1315.3" y1="199.6" x2="1980.6" y2="199.6" stroke="#000" stroke-width="1" stroke-dasharray="4 3.2"/>
<line x1="1647.8" y1="119.6" x2="1647.8" y2="245.2" stroke="#000" stroke-width="1" stroke-dasharray="4 3.2"/>
<rect x="1315.3" y="119.6" width="665.3" height="125.6" fill="none" stroke="#000" stroke-width="1.1"/>
<line x1="1338.3" y1="245.2" x2="1338.3" y2="253.2" stroke="#000" stroke-width="1.1"/>
<text x="1338.3" y="272.8" font-size="12.6" text-anchor="middle">0</text>
<line x1="1473.5" y1="245.2" x2="1473.5" y2="253.2" stroke="#000" stroke-width="1.1"/>
<text x="1473.5" y="272.8" font-size="12.6" text-anchor="middle">100</text>
<line x1="1608.7" y1="245.2" x2="1608.7" y2="253.2" stroke="#000" stroke-width="1.1"/>
<text x="1608.7" y="272.8" font-size="12.6" text-anchor="middle">200</text>
<line x1="1743.8" y1="245.2" x2="1743.8" y2="253.2" stroke="#000" stroke-width="1.1"/>
<text x="1743.8" y="272.8" font-size="12.6" text-anchor="middle">300</text>
<line x1="1878.7" y1="245.2" x2="1878.7" y2="253.2" stroke="#000" stroke-width="1.1"/>
<text x="1878.7" y="272.8" font-size="12.6" text-anchor="middle">400</text>
<line x1="1307.3" y1="224.1" x2="1315.3" y2="224.1" stroke="#000" stroke-width="1.1"/>
<line x1="1307.3" y1="201.3" x2="1315.3" y2="201.3" stroke="#000" stroke-width="1.1"/>
<line x1="1307.3" y1="178.4" x2="1315.3" y2="178.4" stroke="#000" stroke-width="1.1"/>
<line x1="1307.3" y1="155.6" x2="1315.3" y2="155.6" stroke="#000" stroke-width="1.1"/>
<line x1="1307.3" y1="132.8" x2="1315.3" y2="132.8" stroke="#000" stroke-width="1.1"/>
<text x="1296.8" y="224.1" font-size="12.6" text-anchor="middle" transform="rotate(-90 1296.8 224.1)">0.5</text>
<text x="1296.8" y="178.4" font-size="12.6" text-anchor="middle" transform="rotate(-90 1296.8 178.4)">1.5</text>
<text x="1296.8" y="132.8" font-size="12.6" text-anchor="middle" transform="rotate(-90 1296.8 132.8)">2.5</text>
<text x="1266.8" y="182.5" font-size="12.6" text-anchor="middle" transform="rotate(-90 1266.8 182.5)">Risk score</text>
<text x="1648" y="302.8" font-size="12.7" text-anchor="middle">Patients (increasing risk socre)</text>
<g fill="#FFA500">
<circle cx="1328.8" cy="137.6" r="4.2"/>
</g>
<g fill="#0000FF">
<circle cx="1328.8" cy="156" r="4.2"/>
</g>
<text x="1342.6" y="142.8" font-size="14.8">High risk</text>
<text x="1342.6" y="161.1" font-size="14.8">low Risk</text>
</g>
<g id="panel-d">
<text x="452" y="535" font-size="42" font-weight="bold" font-family='"Liberation Serif", "Times New Roman", serif'>d</text>
<g fill="#FF0000">
<circle cx="676.7" cy="496" r="3.45"/><circle cx="637.4" cy="530.1" r="3.45"/><circle cx="638.6" cy="544.6" r="3.45"/><circle cx="695.3" cy="527.9" r="3.45"/><circle cx="744.9" cy="528.8" r="3.45"/><circle cx="765.9" cy="528.5" r="3.45"/><circle cx="709.5" cy="542.3" r="3.45"/><circle cx="750.4" cy="547.5" r="3.45"/><circle cx="723.8" cy="553.1" r="3.45"/><circle cx="736.6" cy="558.5" r="3.45"/><circle cx="732.3" cy="562.4" r="3.45"/><circle cx="745.9" cy="559.9" r="3.45"/><circle cx="748.8" cy="559.1" r="3.45"/><circle cx="765.8" cy="558.1" r="3.45"/><circle cx="779.7" cy="569.9" r="3.45"/><circle cx="737.2" cy="573.5" r="3.45"/><circle cx="733.7" cy="582.8" r="3.45"/><circle cx="756.9" cy="580.9" r="3.45"/><circle cx="705.6" cy="582.5" r="3.45"/><circle cx="751" cy="588.6" r="3.45"/><circle cx="738.2" cy="594.3" r="3.45"/><circle cx="744.4" cy="600.6" r="3.45"/><circle cx="702.2" cy="594.4" r="3.45"/><circle cx="712" cy="590.5" r="3.45"/><circle cx="715.7" cy="589" r="3.45"/><circle cx="717.9" cy="589.3" r="3.45"/><circle cx="715.7" cy="600.3" r="3.45"/><circle cx="602.1" cy="598.6" r="3.45"/><circle cx="670.8" cy="600.3" r="3.45"/><circle cx="664.6" cy="605.9" r="3.45"/><circle cx="662" cy="612.3" r="3.45"/><circle cx="669.8" cy="612.5" r="3.45"/><circle cx="677.6" cy="612.5" r="3.45"/><circle cx="707.5" cy="613" r="3.45"/><circle cx="693.6" cy="622.1" r="3.45"/><circle cx="696.6" cy="624.3" r="3.45"/><circle cx="698.8" cy="621.4" r="3.45"/><circle cx="701.7" cy="618.9" r="3.45"/><circle cx="681.1" cy="633.3" r="3.45"/><circle cx="706.9" cy="632.7" r="3.45"/><circle cx="717.5" cy="628.3" r="3.45"/><circle cx="731.2" cy="624.3" r="3.45"/><circle cx="731.9" cy="629.2" r="3.45"/><circle cx="737.8" cy="631.7" r="3.45"/><circle cx="743.2" cy="637.6" r="3.45"/><circle cx="752.2" cy="627.3" r="3.45"/><circle cx="755.2" cy="633.1" r="3.45"/><circle cx="687.5" cy="646" r="3.45"/><circle cx="698.2" cy="643.4" r="3.45"/><circle cx="720.4" cy="640.9" r="3.45"/><circle cx="727.5" cy="642.7" r="3.45"/><circle cx="730" cy="641.2" r="3.45"/><circle cx="723.1" cy="648.3" r="3.45"/><circle cx="728.7" cy="650.4" r="3.45"/><circle cx="738.2" cy="650.8" r="3.45"/><circle cx="753.2" cy="646.4" r="3.45"/><circle cx="757.7" cy="651.2" r="3.45"/><circle cx="638.3" cy="651.2" r="3.45"/><circle cx="647.7" cy="661" r="3.45"/><circle cx="682.6" cy="655.7" r="3.45"/><circle cx="706.9" cy="661.6" r="3.45"/><circle cx="714.2" cy="660.8" r="3.45"/><circle cx="717.2" cy="661.8" r="3.45"/><circle cx="724.8" cy="661.6" r="3.45"/><circle cx="733.4" cy="669.2" r="3.45"/><circle cx="745.9" cy="669.9" r="3.45"/><circle cx="687.5" cy="671.4" r="3.45"/><circle cx="759.1" cy="589.7" r="3.45"/><circle cx="762.1" cy="590.5" r="3.45"/><circle cx="759.1" cy="594.1" r="3.45"/><circle cx="754.7" cy="609.2" r="3.45"/><circle cx="760.6" cy="611.1" r="3.45"/><circle cx="757.4" cy="615.5" r="3.45"/><circle cx="788.6" cy="556.5" r="3.45"/><circle cx="804.3" cy="557.8" r="3.45"/><circle cx="798.8" cy="569.1" r="3.45"/><circle cx="803.7" cy="568.6" r="3.45"/><circle cx="793.1" cy="571.6" r="3.45"/><circle cx="788.3" cy="574.8" r="3.45"/><circle cx="783.4" cy="578" r="3.45"/><circle cx="779.4" cy="579.7" r="3.45"/><circle cx="774.5" cy="578.8" r="3.45"/><circle cx="769.7" cy="579.7" r="3.45"/><circle cx="765.6" cy="583.7" r="3.45"/><circle cx="829.6" cy="584.8" r="3.45"/><circle cx="804.5" cy="583.7" r="3.45"/><circle cx="793.9" cy="584.5" r="3.45"/><circle cx="789.9" cy="586.9" r="3.45"/><circle cx="786.7" cy="591.8" r="3.45"/><circle cx="792.3" cy="593.4" r="3.45"/><circle cx="798" cy="592.3" r="3.45"/><circle cx="775.3" cy="592.6" r="3.45"/><circle cx="771.3" cy="597.5" r="3.45"/><circle cx="769.7" cy="603.1" r="3.45"/><circle cx="780.2" cy="601.5" r="3.45"/><circle cx="782.6" cy="606.4" r="3.45"/><circle cx="773.7" cy="610.4" r="3.45"/><circle cx="772.9" cy="615.3" r="3.45"/><circle cx="779.4" cy="612" r="3.45"/><circle cx="784.2" cy="616.1" r="3.45"/><circle cx="793.1" cy="618.5" r="3.45"/><circle cx="802.9" cy="601.5" r="3.45"/><circle cx="802" cy="608" r="3.45"/><circle cx="803.7" cy="614.5" r="3.45"/><circle cx="798.8" cy="609.6" r="3.45"/><circle cx="811.8" cy="606.4" r="3.45"/><circle cx="813.4" cy="612.8" r="3.45"/><circle cx="821.5" cy="610.4" r="3.45"/><circle cx="814.2" cy="618.5" r="3.45"/><circle cx="812.6" cy="625" r="3.45"/><circle cx="803.7" cy="623.4" r="3.45"/><circle cx="798.8" cy="626.6" r="3.45"/><circle cx="793.1" cy="627.4" r="3.45"/><circle cx="787.5" cy="625.8" r="3.45"/><circle cx="784.2" cy="620.9" r="3.45"/><circle cx="831.2" cy="615.3" r="3.45"/><circle cx="774.5" cy="629.8" r="3.45"/><circle cx="772.9" cy="635.5" r="3.45"/><circle cx="780.2" cy="634.7" r="3.45"/><circle cx="782.6" cy="641.2" r="3.45"/><circle cx="786.7" cy="646" r="3.45"/><circle cx="781" cy="648.5" r="3.45"/><circle cx="776.1" cy="651.7" r="3.45"/><circle cx="770.5" cy="642" r="3.45"/><circle cx="767.2" cy="647.6" r="3.45"/><circle cx="764" cy="653.3" r="3.45"/><circle cx="793.9" cy="637.1" r="3.45"/><circle cx="798.8" cy="641.2" r="3.45"/><circle cx="805.3" cy="642" r="3.45"/><circle cx="812.6" cy="646.8" r="3.45"/><circle cx="819.8" cy="642.8" r="3.45"/><circle cx="819.8" cy="651.4" r="3.45"/><circle cx="836.8" cy="640.8" r="3.45"/><circle cx="819" cy="629.8" r="3.45"/><circle cx="812.6" cy="629.8" r="3.45"/><circle cx="807.7" cy="631.5" r="3.45"/><circle cx="795.6" cy="631.5" r="3.45"/><circle cx="778.6" cy="658.2" r="3.45"/><circle cx="785" cy="659.8" r="3.45"/><circle cx="786.7" cy="662.2" r="3.45"/><circle cx="765.6" cy="660.6" r="3.45"/><circle cx="798.8" cy="665" r="3.45"/><circle cx="806.9" cy="663" r="3.45"/><circle cx="818.2" cy="660.1" r="3.45"/><circle cx="824.7" cy="659" r="3.45"/><circle cx="829.6" cy="660.6" r="3.45"/><circle cx="781.8" cy="671.1" r="3.45"/><circle cx="789.1" cy="668.7" r="3.45"/><circle cx="790.7" cy="674.4" r="3.45"/><circle cx="807.7" cy="670.3" r="3.45"/><circle cx="809.3" cy="674.4" r="3.45"/><circle cx="768.9" cy="676.3" r="3.45"/><circle cx="776.6" cy="678.4" r="3.45"/><circle cx="791.5" cy="680.8" r="3.45"/><circle cx="799.9" cy="687" r="3.45"/><circle cx="820.7" cy="678.4" r="3.45"/><circle cx="822.3" cy="676.3" r="3.45"/><circle cx="789.9" cy="597.5" r="3.45"/><circle cx="788.3" cy="601.5" r="3.45"/><circle cx="793.1" cy="606.4" r="3.45"/><circle cx="796.4" cy="612.8" r="3.45"/><circle cx="790.7" cy="614.5" r="3.45"/><circle cx="788.3" cy="621.7" r="3.45"/><circle cx="807.7" cy="619.3" r="3.45"/><circle cx="809.3" cy="614.5" r="3.45"/><circle cx="801.2" cy="618.5" r="3.45"/><circle cx="805.3" cy="627.4" r="3.45"/><circle cx="815.8" cy="627.4" r="3.45"/><circle cx="817.4" cy="622.6" r="3.45"/><circle cx="777.8" cy="606.4" r="3.45"/><circle cx="776.1" cy="617.7" r="3.45"/><circle cx="781" cy="624.2" r="3.45"/><circle cx="785" cy="631.5" r="3.45"/><circle cx="789.9" cy="633.9" r="3.45"/><circle cx="800.4" cy="635.5" r="3.45"/><circle cx="797.2" cy="637.9" r="3.45"/><circle cx="762.5" cy="663.6" r="3.45"/><circle cx="815" cy="666.1" r="3.45"/><circle cx="683.2" cy="681" r="3.45"/><circle cx="699.6" cy="681" r="3.45"/><circle cx="724" cy="679.2" r="3.45"/><circle cx="748.2" cy="679.4" r="3.45"/><circle cx="721" cy="687.4" r="3.45"/><circle cx="686.3" cy="689.9" r="3.45"/><circle cx="728.8" cy="692.3" r="3.45"/><circle cx="763.3" cy="692.7" r="3.45"/><circle cx="772.6" cy="693.5" r="3.45"/><circle cx="781.7" cy="695.5" r="3.45"/><circle cx="816.4" cy="693.9" r="3.45"/><circle cx="789.1" cy="698.7" r="3.45"/><circle cx="724.8" cy="701.6" r="3.45"/><circle cx="612.2" cy="702.6" r="3.45"/><circle cx="688.9" cy="710.4" r="3.45"/><circle cx="690.3" cy="717.5" r="3.45"/><circle cx="704.2" cy="715.1" r="3.45"/><circle cx="772.2" cy="711.8" r="3.45"/><circle cx="612.4" cy="727.6" r="3.45"/><circle cx="617.7" cy="732.8" r="3.45"/><circle cx="692.5" cy="743.1" r="3.45"/><circle cx="674.4" cy="787.3" r="3.45"/><circle cx="723.4" cy="783.2" r="3.45"/><circle cx="663.5" cy="837.3" r="3.45"/>
</g>
<g fill="#0000FF">
<circle cx="779.7" cy="489.8" r="3.45"/><circle cx="802.2" cy="497.9" r="3.45"/><circle cx="850.1" cy="524.1" r="3.45"/><circle cx="815.2" cy="550.8" r="3.45"/><circle cx="849.5" cy="558.9" r="3.45"/><circle cx="825.2" cy="561.2" r="3.45"/><circle cx="792.5" cy="565.4" r="3.45"/><circle cx="816.1" cy="568.2" r="3.45"/><circle cx="836.8" cy="566.7" r="3.45"/><circle cx="843" cy="570.3" r="3.45"/><circle cx="852.2" cy="575.6" r="3.45"/><circle cx="880.6" cy="579.8" r="3.45"/><circle cx="872.9" cy="583.1" r="3.45"/><circle cx="890.6" cy="590.2" r="3.45"/><circle cx="874.1" cy="593.9" r="3.45"/><circle cx="899.3" cy="603.4" r="3.45"/><circle cx="891.4" cy="610.9" r="3.45"/><circle cx="889.9" cy="617.4" r="3.45"/><circle cx="906.5" cy="620.4" r="3.45"/><circle cx="891.9" cy="624.5" r="3.45"/><circle cx="889.5" cy="631" r="3.45"/><circle cx="896.7" cy="629.8" r="3.45"/><circle cx="905.6" cy="629" r="3.45"/><circle cx="917" cy="643.1" r="3.45"/><circle cx="916.2" cy="652" r="3.45"/><circle cx="909.2" cy="656.5" r="3.45"/><circle cx="893.2" cy="646" r="3.45"/><circle cx="889.5" cy="651.4" r="3.45"/><circle cx="898.4" cy="650.9" r="3.45"/><circle cx="892.4" cy="667.9" r="3.45"/><circle cx="879.3" cy="667.4" r="3.45"/><circle cx="864.7" cy="664.6" r="3.45"/><circle cx="864.7" cy="668.7" r="3.45"/><circle cx="854.7" cy="660.9" r="3.45"/><circle cx="876.8" cy="680" r="3.45"/><circle cx="863.9" cy="682" r="3.45"/><circle cx="881.7" cy="686" r="3.45"/><circle cx="848.7" cy="686.8" r="3.45"/><circle cx="949.8" cy="687" r="3.45"/><circle cx="825.5" cy="679.4" r="3.45"/><circle cx="790.7" cy="605.9" r="3.45"/><circle cx="810.9" cy="634.7" r="3.45"/><circle cx="793.9" cy="640.7" r="3.45"/><circle cx="817.4" cy="639.5" r="3.45"/><circle cx="809.3" cy="646.8" r="3.45"/><circle cx="812.6" cy="657" r="3.45"/><circle cx="814.2" cy="664.6" r="3.45"/><circle cx="834.4" cy="656.5" r="3.45"/><circle cx="837.7" cy="659.8" r="3.45"/><circle cx="844.1" cy="660.6" r="3.45"/><circle cx="835.2" cy="667.1" r="3.45"/><circle cx="840.9" cy="663" r="3.45"/><circle cx="844.1" cy="670.3" r="3.45"/><circle cx="839.3" cy="674.4" r="3.45"/><circle cx="844.9" cy="676" r="3.45"/><circle cx="848.2" cy="674.7" r="3.45"/><circle cx="843.3" cy="680.8" r="3.45"/><circle cx="862.7" cy="647.6" r="3.45"/><circle cx="867.6" cy="650.1" r="3.45"/><circle cx="865.2" cy="656.2" r="3.45"/><circle cx="870.8" cy="648.5" r="3.45"/><circle cx="877.3" cy="642" r="3.45"/><circle cx="883" cy="642" r="3.45"/><circle cx="869.2" cy="642" r="3.45"/><circle cx="798.8" cy="578" r="3.45"/><circle cx="803.7" cy="578" r="3.45"/><circle cx="808.5" cy="577.2" r="3.45"/><circle cx="810.9" cy="574.8" r="3.45"/><circle cx="812.6" cy="579.7" r="3.45"/><circle cx="817.4" cy="577.2" r="3.45"/><circle cx="819.8" cy="582.9" r="3.45"/><circle cx="823.1" cy="577.2" r="3.45"/><circle cx="825.5" cy="579.7" r="3.45"/><circle cx="830.4" cy="575.6" r="3.45"/><circle cx="834.4" cy="574.8" r="3.45"/><circle cx="837.7" cy="576.4" r="3.45"/><circle cx="840.1" cy="578.8" r="3.45"/><circle cx="844.1" cy="579.7" r="3.45"/><circle cx="847.4" cy="582.9" r="3.45"/><circle cx="835.2" cy="582.9" r="3.45"/><circle cx="839.3" cy="585.3" r="3.45"/><circle cx="843.3" cy="585.3" r="3.45"/><circle cx="852.2" cy="586.1" r="3.45"/><circle cx="856.3" cy="583.7" r="3.45"/><circle cx="857.1" cy="587.7" r="3.45"/><circle cx="853.8" cy="591.8" r="3.45"/><circle cx="845.8" cy="591.8" r="3.45"/><circle cx="839.3" cy="591.8" r="3.45"/><circle cx="806.9" cy="586.9" r="3.45"/><circle cx="812.6" cy="594.2" r="3.45"/><circle cx="815.8" cy="591" r="3.45"/><circle cx="819.8" cy="592.6" r="3.45"/><circle cx="823.9" cy="592.6" r="3.45"/><circle cx="827.1" cy="595.8" r="3.45"/><circle cx="823.1" cy="597.5" r="3.45"/><circle cx="820.7" cy="600.7" r="3.45"/><circle cx="817.4" cy="604.7" r="3.45"/><circle cx="819" cy="596.7" r="3.45"/><circle cx="835.2" cy="601.5" r="3.45"/><circle cx="839.3" cy="599.9" r="3.45"/><circle cx="844.1" cy="601.5" r="3.45"/><circle cx="840.1" cy="606.4" r="3.45"/><circle cx="837.7" cy="609.6" r="3.45"/><circle cx="841.7" cy="611.2" r="3.45"/><circle cx="826.3" cy="608" r="3.45"/><circle cx="828.8" cy="611.2" r="3.45"/><circle cx="822.3" cy="614.5" r="3.45"/><circle cx="825.5" cy="617.7" r="3.45"/><circle cx="828.8" cy="620.9" r="3.45"/><circle cx="820.7" cy="616.1" r="3.45"/><circle cx="826.3" cy="622.6" r="3.45"/><circle cx="848.2" cy="608.8" r="3.45"/><circle cx="852.2" cy="609.6" r="3.45"/><circle cx="854.7" cy="608" r="3.45"/><circle cx="849.8" cy="614.5" r="3.45"/><circle cx="846.6" cy="617.7" r="3.45"/><circle cx="851.4" cy="620.1" r="3.45"/><circle cx="843.3" cy="616.1" r="3.45"/><circle cx="840.1" cy="619.3" r="3.45"/><circle cx="837.7" cy="622.6" r="3.45"/><circle cx="835.2" cy="625.8" r="3.45"/><circle cx="832.8" cy="629" r="3.45"/><circle cx="830.4" cy="633.1" r="3.45"/><circle cx="828.8" cy="637.1" r="3.45"/><circle cx="832" cy="640.4" r="3.45"/><circle cx="827.9" cy="643.6" r="3.45"/><circle cx="826.3" cy="646" r="3.45"/><circle cx="832" cy="646.8" r="3.45"/><circle cx="836.8" cy="646.8" r="3.45"/><circle cx="841.7" cy="646" r="3.45"/><circle cx="846.6" cy="648.5" r="3.45"/><circle cx="851.4" cy="647.6" r="3.45"/><circle cx="860.3" cy="601.5" r="3.45"/><circle cx="864.4" cy="604.7" r="3.45"/><circle cx="868.4" cy="608" r="3.45"/><circle cx="875.7" cy="606.4" r="3.45"/><circle cx="874.1" cy="611.2" r="3.45"/><circle cx="870.8" cy="614.5" r="3.45"/><circle cx="877.3" cy="614.5" r="3.45"/><circle cx="882.2" cy="611.2" r="3.45"/><circle cx="858.7" cy="613.6" r="3.45"/><circle cx="861.1" cy="617.7" r="3.45"/><circle cx="857.1" cy="620.9" r="3.45"/><circle cx="864.4" cy="620.1" r="3.45"/><circle cx="868.4" cy="619.3" r="3.45"/><circle cx="871.7" cy="621.7" r="3.45"/><circle cx="867.6" cy="624.2" r="3.45"/><circle cx="862.7" cy="625" r="3.45"/><circle cx="859.5" cy="627.4" r="3.45"/><circle cx="864.4" cy="629.8" r="3.45"/><circle cx="869.2" cy="628.2" r="3.45"/><circle cx="874.1" cy="625.8" r="3.45"/><circle cx="878.9" cy="628.2" r="3.45"/><circle cx="876.5" cy="631.5" r="3.45"/><circle cx="871.7" cy="632.3" r="3.45"/><circle cx="866.8" cy="633.9" r="3.45"/><circle cx="862.7" cy="632.3" r="3.45"/><circle cx="865.2" cy="636.3" r="3.45"/><circle cx="874.1" cy="640.4" r="3.45"/><circle cx="879.7" cy="641.2" r="3.45"/><circle cx="844.1" cy="627.4" r="3.45"/><circle cx="848.2" cy="625.8" r="3.45"/><circle cx="851.4" cy="629" r="3.45"/><circle cx="853.8" cy="632.3" r="3.45"/><circle cx="849" cy="633.9" r="3.45"/><circle cx="844.9" cy="632.3" r="3.45"/><circle cx="846.6" cy="637.1" r="3.45"/><circle cx="851.4" cy="637.9" r="3.45"/><circle cx="854.7" cy="635.5" r="3.45"/><circle cx="841.7" cy="623.4" r="3.45"/><circle cx="839.3" cy="628.2" r="3.45"/><circle cx="836" cy="633.9" r="3.45"/><circle cx="833.6" cy="635.5" r="3.45"/><circle cx="840.9" cy="642" r="3.45"/><circle cx="837.2" cy="662" r="3.45"/><circle cx="789.7" cy="696.3" r="3.45"/><circle cx="807.1" cy="703.4" r="3.45"/><circle cx="817.4" cy="723.5" r="3.45"/><circle cx="859.3" cy="740.5" r="3.45"/><circle cx="893" cy="729.6" r="3.45"/><circle cx="902.5" cy="725" r="3.45"/><circle cx="911.2" cy="705.2" r="3.45"/><circle cx="932" cy="694.5" r="3.45"/><circle cx="941.8" cy="741.9" r="3.45"/><circle cx="961.4" cy="750" r="3.45"/>
</g>
<g fill="#FF0000">
<circle cx="829.6" cy="584.8" r="3.45"/><circle cx="836.8" cy="640.8" r="3.45"/><circle cx="821.5" cy="610.4" r="3.45"/><circle cx="831.2" cy="615.3" r="3.45"/>
</g>
<rect x="584.5" y="473" width="394.5" height="381.3" fill="none" stroke="#333333" stroke-width="1.1"/>
<line x1="609.4" y1="854.3" x2="609.4" y2="859.1" stroke="#333333" stroke-width="1.5"/>
<text x="609.4" y="872.2" font-size="13.4" text-anchor="middle" fill="#4D4D4D">−5.0</text>
<line x1="706.8" y1="854.3" x2="706.8" y2="859.1" stroke="#333333" stroke-width="1.5"/>
<text x="706.8" y="872.2" font-size="13.4" text-anchor="middle" fill="#4D4D4D">−2.5</text>
<line x1="804.2" y1="854.3" x2="804.2" y2="859.1" stroke="#333333" stroke-width="1.5"/>
<text x="804.2" y="872.2" font-size="13.4" text-anchor="middle" fill="#4D4D4D">0.0</text>
<line x1="901.7" y1="854.3" x2="901.7" y2="859.1" stroke="#333333" stroke-width="1.5"/>
<text x="901.7" y="872.2" font-size="13.4" text-anchor="middle" fill="#4D4D4D">2.5</text>
<line x1="579.8" y1="475.5" x2="584.5" y2="475.5" stroke="#333333" stroke-width="1.5"/>
<text x="576.4" y="480.3" font-size="13.4" text-anchor="end" fill="#4D4D4D">4</text>
<line x1="579.8" y1="550.7" x2="584.5" y2="550.7" stroke="#333333" stroke-width="1.5"/>
<text x="576.4" y="555.5" font-size="13.4" text-anchor="end" fill="#4D4D4D">2</text>
<line x1="579.8" y1="625.9" x2="584.5" y2="625.9" stroke="#333333" stroke-width="1.5"/>
<text x="576.4" y="630.7" font-size="13.4" text-anchor="end" fill="#4D4D4D">0</text>
<line x1="579.8" y1="701.1" x2="584.5" y2="701.1" stroke="#333333" stroke-width="1.5"/>
<text x="576.4" y="705.9" font-size="13.4" text-anchor="end" fill="#4D4D4D">−2</text>
<line x1="579.8" y1="776.3" x2="584.5" y2="776.3" stroke="#333333" stroke-width="1.5"/>
<text x="576.4" y="781.1" font-size="13.4" text-anchor="end" fill="#4D4D4D">−4</text>
<line x1="579.8" y1="851.5" x2="584.5" y2="851.5" stroke="#333333" stroke-width="1.5"/>
<text x="576.4" y="856.3" font-size="13.4" text-anchor="end" fill="#4D4D4D">−6</text>
<text x="781.5" y="890.7" font-size="15.9" text-anchor="middle">PC1</text>
<text x="553.5" y="663.5" font-size="16.2" text-anchor="middle" transform="rotate(-90 553.5 663.5)">PC2</text>
<text x="1004.2" y="639.7" font-size="16.4">Risk</text>
<g fill="#FF0000">
<circle cx="1017.5" cy="663" r="3.45"/>
</g>
<g fill="#0000FF">
<circle cx="1017.5" cy="689.1" r="3.45"/>
</g>
<text x="1038.2" y="666.7" font-size="13.45">high</text>
<text x="1038.2" y="693" font-size="13.45">low</text>
</g>
<g id="panel-e">
<text x="1182.8" y="535" font-size="42" font-weight="bold" font-family='"Liberation Serif", "Times New Roman", serif'>e</text>
<g fill="#0000FF">
<circle cx="1282.3" cy="637.1" r="3.7"/><circle cx="1327.1" cy="631.2" r="3.7"/><circle cx="1331" cy="639.4" r="3.7"/><circle cx="1289.6" cy="653.6" r="3.7"/><circle cx="1301.9" cy="653.3" r="3.7"/><circle cx="1449.2" cy="613.6" r="3.7"/><circle cx="1445.3" cy="617.8" r="3.7"/><circle cx="1317.1" cy="674" r="3.7"/><circle cx="1421.9" cy="670.3" r="3.7"/><circle cx="1459.2" cy="674" r="3.7"/><circle cx="1509.8" cy="574.2" r="3.7"/><circle cx="1479.8" cy="587.3" r="3.7"/><circle cx="1513" cy="595.8" r="3.7"/><circle cx="1520.3" cy="597.2" r="3.7"/><circle cx="1549.2" cy="607.7" r="3.7"/><circle cx="1548.4" cy="617.4" r="3.7"/><circle cx="1556.6" cy="617.8" r="3.7"/><circle cx="1545.3" cy="627" r="3.7"/><circle cx="1563.2" cy="626.3" r="3.7"/><circle cx="1570" cy="609.7" r="3.7"/><circle cx="1586.4" cy="617.3" r="3.7"/><circle cx="1590.9" cy="596.1" r="3.7"/><circle cx="1589.8" cy="604.9" r="3.7"/><circle cx="1600.3" cy="597.7" r="3.7"/><circle cx="1606" cy="604.6" r="3.7"/><circle cx="1615" cy="601.1" r="3.7"/><circle cx="1613" cy="609.3" r="3.7"/><circle cx="1622.3" cy="608.9" r="3.7"/><circle cx="1623.5" cy="612.7" r="3.7"/><circle cx="1621.9" cy="617" r="3.7"/><circle cx="1630.3" cy="619.3" r="3.7"/><circle cx="1628.4" cy="626.7" r="3.7"/><circle cx="1626.9" cy="634.4" r="3.7"/><circle cx="1602.2" cy="626.6" r="3.7"/><circle cx="1511.8" cy="656.1" r="3.7"/><circle cx="1571.3" cy="669.2" r="3.7"/><circle cx="1598.3" cy="669.5" r="3.7"/><circle cx="1580.5" cy="674" r="3.7"/><circle cx="1626.1" cy="674" r="3.7"/><circle cx="1318.6" cy="688.3" r="3.7"/><circle cx="1320.9" cy="687.8" r="3.7"/><circle cx="1446.6" cy="682.1" r="3.7"/><circle cx="1401" cy="719.5" r="3.7"/><circle cx="1445.3" cy="723.4" r="3.7"/><circle cx="1441.9" cy="729.5" r="3.7"/><circle cx="1412.6" cy="750.9" r="3.7"/><circle cx="1425.3" cy="752.3" r="3.7"/><circle cx="1419.1" cy="758.6" r="3.7"/><circle cx="1410.9" cy="762.3" r="3.7"/><circle cx="1420.6" cy="766.3" r="3.7"/><circle cx="1420.6" cy="769.7" r="3.7"/><circle cx="1401.3" cy="768.2" r="3.7"/><circle cx="1380.7" cy="755" r="3.7"/><circle cx="1356.5" cy="756.6" r="3.7"/><circle cx="1360.4" cy="758.1" r="3.7"/><circle cx="1361.1" cy="763.5" r="3.7"/><circle cx="1362.7" cy="768.9" r="3.7"/><circle cx="1365.8" cy="771.3" r="3.7"/><circle cx="1368.8" cy="774.3" r="3.7"/><circle cx="1369.9" cy="777.7" r="3.7"/><circle cx="1374.3" cy="763.8" r="3.7"/><circle cx="1381.2" cy="765.4" r="3.7"/><circle cx="1376.6" cy="769.7" r="3.7"/><circle cx="1345.7" cy="771.3" r="3.7"/><circle cx="1364.2" cy="795.7" r="3.7"/><circle cx="1387.4" cy="794.9" r="3.7"/><circle cx="1390" cy="801.9" r="3.7"/><circle cx="1420.9" cy="783.2" r="3.7"/><circle cx="1423.7" cy="787.5" r="3.7"/><circle cx="1426" cy="791.3" r="3.7"/><circle cx="1431.1" cy="792.6" r="3.7"/><circle cx="1428.3" cy="796.8" r="3.7"/><circle cx="1429.1" cy="800.6" r="3.7"/><circle cx="1425.3" cy="802.2" r="3.7"/><circle cx="1436.1" cy="801.1" r="3.7"/><circle cx="1410.6" cy="822.3" r="3.7"/><circle cx="1414.4" cy="823.3" r="3.7"/><circle cx="1453.1" cy="820.2" r="3.7"/><circle cx="1460.8" cy="822.3" r="3.7"/><circle cx="1450.3" cy="827.2" r="3.7"/><circle cx="1455.4" cy="827.7" r="3.7"/><circle cx="1464.7" cy="828.4" r="3.7"/><circle cx="1460" cy="835.1" r="3.7"/><circle cx="1464.7" cy="839.7" r="3.7"/><circle cx="1446.4" cy="839.2" r="3.7"/><circle cx="1449.2" cy="843.1" r="3.7"/><circle cx="1448" cy="846.2" r="3.7"/><circle cx="1584.4" cy="679.3" r="3.7"/><circle cx="1582.8" cy="685.5" r="3.7"/><circle cx="1579" cy="688.3" r="3.7"/><circle cx="1570.5" cy="689.4" r="3.7"/><circle cx="1587" cy="692.5" r="3.7"/><circle cx="1589" cy="700.9" r="3.7"/><circle cx="1640.8" cy="700.6" r="3.7"/><circle cx="1643.4" cy="712.8" r="3.7"/><circle cx="1631.5" cy="715.3" r="3.7"/><circle cx="1635.4" cy="717.5" r="3.7"/><circle cx="1639.2" cy="720" r="3.7"/><circle cx="1647" cy="723.4" r="3.7"/><circle cx="1602.2" cy="715.9" r="3.7"/><circle cx="1599.1" cy="719.5" r="3.7"/><circle cx="1625.3" cy="723.8" r="3.7"/><circle cx="1626.6" cy="730.3" r="3.7"/><circle cx="1616.5" cy="733.1" r="3.7"/><circle cx="1620.7" cy="735.7" r="3.7"/><circle cx="1625.3" cy="738.8" r="3.7"/><circle cx="1631.5" cy="742.7" r="3.7"/><circle cx="1633.8" cy="744.7" r="3.7"/><circle cx="1647.7" cy="732.3" r="3.7"/><circle cx="1642.3" cy="734.9" r="3.7"/><circle cx="1650.8" cy="743.9" r="3.7"/><circle cx="1613" cy="739.9" r="3.7"/><circle cx="1623.8" cy="747.8" r="3.7"/><circle cx="1612.7" cy="749.6" r="3.7"/><circle cx="1604.5" cy="748.5" r="3.7"/><circle cx="1580.5" cy="731.4" r="3.7"/><circle cx="1582.8" cy="736.5" r="3.7"/><circle cx="1580.2" cy="744.5" r="3.7"/><circle cx="1582.1" cy="749.6" r="3.7"/><circle cx="1585.2" cy="753.5" r="3.7"/><circle cx="1590.6" cy="757.4" r="3.7"/><circle cx="1592.1" cy="753.5" r="3.7"/><circle cx="1596" cy="752.4" r="3.7"/><circle cx="1576.4" cy="756.3" r="3.7"/><circle cx="1524.9" cy="690.1" r="3.7"/><circle cx="1500.9" cy="694" r="3.7"/><circle cx="1501.7" cy="696.3" r="3.7"/><circle cx="1477" cy="712.5" r="3.7"/><circle cx="1479.3" cy="713.3" r="3.7"/><circle cx="1484" cy="711.8" r="3.7"/><circle cx="1525.7" cy="715.3" r="3.7"/><circle cx="1527.5" cy="720" r="3.7"/><circle cx="1505.3" cy="727.7" r="3.7"/><circle cx="1510.5" cy="735.7" r="3.7"/><circle cx="1520.3" cy="735.4" r="3.7"/><circle cx="1478.9" cy="734.9" r="3.7"/><circle cx="1500.9" cy="744.2" r="3.7"/><circle cx="1549.6" cy="727.2" r="3.7"/><circle cx="1542.7" cy="743.9" r="3.7"/><circle cx="1551.2" cy="743" r="3.7"/><circle cx="1553.5" cy="750.7" r="3.7"/><circle cx="1544.7" cy="754.6" r="3.7"/><circle cx="1548.9" cy="756.6" r="3.7"/><circle cx="1548.1" cy="762.5" r="3.7"/><circle cx="1560.4" cy="757.8" r="3.7"/><circle cx="1562.8" cy="761.2" r="3.7"/><circle cx="1567.4" cy="754.7" r="3.7"/><circle cx="1565.1" cy="758.9" r="3.7"/><circle cx="1559.7" cy="765.8" r="3.7"/><circle cx="1568.9" cy="766.3" r="3.7"/><circle cx="1564.8" cy="775.9" r="3.7"/><circle cx="1555.8" cy="783.3" r="3.7"/><circle cx="1562.8" cy="784.1" r="3.7"/><circle cx="1561.2" cy="787.5" r="3.7"/><circle cx="1647.4" cy="754.3" r="3.7"/><circle cx="1647" cy="758.9" r="3.7"/><circle cx="1647" cy="762.8" r="3.7"/><circle cx="1646.7" cy="767.4" r="3.7"/><circle cx="1618.4" cy="767.4" r="3.7"/><circle cx="1622.3" cy="766.3" r="3.7"/><circle cx="1626.9" cy="766.6" r="3.7"/><circle cx="1630" cy="766.6" r="3.7"/><circle cx="1611.9" cy="773.6" r="3.7"/><circle cx="1611.4" cy="778.7" r="3.7"/><circle cx="1608.3" cy="781.3" r="3.7"/><circle cx="1615.3" cy="787" r="3.7"/><circle cx="1634.6" cy="782.1" r="3.7"/><circle cx="1591.7" cy="775.1" r="3.7"/><circle cx="1596" cy="778.2" r="3.7"/><circle cx="1587.5" cy="781.3" r="3.7"/><circle cx="1580.5" cy="783.3" r="3.7"/><circle cx="1582.8" cy="789.5" r="3.7"/><circle cx="1593.7" cy="789.8" r="3.7"/><circle cx="1598.3" cy="796.8" r="3.7"/><circle cx="1582.8" cy="801.4" r="3.7"/><circle cx="1519.8" cy="779.4" r="3.7"/><circle cx="1508.7" cy="787.5" r="3.7"/><circle cx="1517.6" cy="793.7" r="3.7"/><circle cx="1524.1" cy="798.6" r="3.7"/><circle cx="1527.2" cy="804.5" r="3.7"/><circle cx="1535.4" cy="801.7" r="3.7"/><circle cx="1542.7" cy="804.8" r="3.7"/><circle cx="1545.8" cy="811.4" r="3.7"/><circle cx="1529.5" cy="812.5" r="3.7"/><circle cx="1533.9" cy="813.3" r="3.7"/><circle cx="1540.8" cy="819.5" r="3.7"/><circle cx="1554" cy="819.5" r="3.7"/><circle cx="1561.2" cy="813.8" r="3.7"/><circle cx="1568.6" cy="816.5" r="3.7"/><circle cx="1568.2" cy="810.7" r="3.7"/><circle cx="1569.7" cy="804.5" r="3.7"/><circle cx="1574" cy="804.5" r="3.7"/><circle cx="1565.8" cy="800.6" r="3.7"/><circle cx="1479.3" cy="795.7" r="3.7"/><circle cx="1486" cy="801.4" r="3.7"/><circle cx="1487.4" cy="813.8" r="3.7"/><circle cx="1487.8" cy="821.9" r="3.7"/><circle cx="1478.9" cy="820.2" r="3.7"/><circle cx="1473.9" cy="829.2" r="3.7"/><circle cx="1478.2" cy="834.3" r="3.7"/><circle cx="1504.8" cy="840.8" r="3.7"/><circle cx="1507.9" cy="843.1" r="3.7"/><circle cx="1511.8" cy="845.1" r="3.7"/><circle cx="1514.9" cy="846.7" r="3.7"/>
</g>
<g fill="#FF0000">
<circle cx="1470.1" cy="498.8" r="3.7"/><circle cx="1453.8" cy="508.8" r="3.7"/><circle cx="1452.3" cy="518.1" r="3.7"/><circle cx="1463.4" cy="520.4" r="3.7"/><circle cx="1465.9" cy="522.4" r="3.7"/><circle cx="1454.6" cy="525.8" r="3.7"/><circle cx="1456.9" cy="527.4" r="3.7"/><circle cx="1455.8" cy="535.2" r="3.7"/><circle cx="1466.5" cy="549.8" r="3.7"/><circle cx="1471.6" cy="552.1" r="3.7"/><circle cx="1467.3" cy="558.3" r="3.7"/><circle cx="1464.2" cy="564.8" r="3.7"/><circle cx="1449.2" cy="580.7" r="3.7"/><circle cx="1461.3" cy="579.1" r="3.7"/><circle cx="1302.7" cy="587.3" r="3.7"/><circle cx="1320.5" cy="587.6" r="3.7"/><circle cx="1325.3" cy="592.3" r="3.7"/><circle cx="1303.5" cy="596.1" r="3.7"/><circle cx="1301.3" cy="598.9" r="3.7"/><circle cx="1310.4" cy="599.5" r="3.7"/><circle cx="1315.5" cy="600.8" r="3.7"/><circle cx="1319.9" cy="599.7" r="3.7"/><circle cx="1321.4" cy="609.3" r="3.7"/><circle cx="1321.7" cy="612" r="3.7"/><circle cx="1338.3" cy="601.8" r="3.7"/><circle cx="1337.6" cy="607.4" r="3.7"/><circle cx="1370.9" cy="600" r="3.7"/><circle cx="1370.4" cy="603.8" r="3.7"/><circle cx="1407.8" cy="600.8" r="3.7"/><circle cx="1405.2" cy="604.6" r="3.7"/><circle cx="1401.3" cy="608.8" r="3.7"/><circle cx="1394.3" cy="611.9" r="3.7"/><circle cx="1386.6" cy="612.8" r="3.7"/><circle cx="1352.6" cy="611.6" r="3.7"/><circle cx="1354.2" cy="613.9" r="3.7"/><circle cx="1349.5" cy="621.3" r="3.7"/><circle cx="1353.4" cy="622.4" r="3.7"/><circle cx="1357" cy="623.9" r="3.7"/><circle cx="1293.1" cy="618.2" r="3.7"/><circle cx="1281.1" cy="624.7" r="3.7"/><circle cx="1298.5" cy="625.5" r="3.7"/><circle cx="1303.5" cy="626.3" r="3.7"/><circle cx="1290.8" cy="630.1" r="3.7"/><circle cx="1287.7" cy="631.7" r="3.7"/><circle cx="1325.6" cy="625.9" r="3.7"/><circle cx="1382" cy="625.2" r="3.7"/><circle cx="1391.7" cy="631.7" r="3.7"/><circle cx="1426.8" cy="624.7" r="3.7"/><circle cx="1423.7" cy="628.6" r="3.7"/><circle cx="1419.4" cy="630.1" r="3.7"/><circle cx="1426.5" cy="632.4" r="3.7"/><circle cx="1454.6" cy="609.7" r="3.7"/><circle cx="1450" cy="620.1" r="3.7"/><circle cx="1375" cy="634.4" r="3.7"/><circle cx="1371.2" cy="636.3" r="3.7"/><circle cx="1344.4" cy="635.2" r="3.7"/><circle cx="1343.4" cy="638.6" r="3.7"/><circle cx="1340.3" cy="639.1" r="3.7"/><circle cx="1411" cy="641.7" r="3.7"/><circle cx="1444.1" cy="642.5" r="3.7"/><circle cx="1449.2" cy="646.3" r="3.7"/><circle cx="1454.6" cy="646.3" r="3.7"/><circle cx="1454.6" cy="653.3" r="3.7"/><circle cx="1401.6" cy="647.4" r="3.7"/><circle cx="1413.7" cy="647.9" r="3.7"/><circle cx="1411.3" cy="652.5" r="3.7"/><circle cx="1418" cy="653.8" r="3.7"/><circle cx="1424.5" cy="650.2" r="3.7"/><circle cx="1362.7" cy="649.9" r="3.7"/><circle cx="1361.1" cy="652.2" r="3.7"/><circle cx="1320.6" cy="651" r="3.7"/><circle cx="1321.7" cy="656.4" r="3.7"/><circle cx="1325.6" cy="657.2" r="3.7"/><circle cx="1293.9" cy="656.4" r="3.7"/><circle cx="1293.9" cy="659.9" r="3.7"/><circle cx="1335.6" cy="659.5" r="3.7"/><circle cx="1338.7" cy="659" r="3.7"/><circle cx="1355.3" cy="657.9" r="3.7"/><circle cx="1395.6" cy="654.5" r="3.7"/><circle cx="1402.8" cy="658.2" r="3.7"/><circle cx="1316" cy="662.3" r="3.7"/><circle cx="1314" cy="668.7" r="3.7"/><circle cx="1387.1" cy="662.6" r="3.7"/><circle cx="1388.9" cy="668.7" r="3.7"/><circle cx="1391.3" cy="671.8" r="3.7"/><circle cx="1386.6" cy="674" r="3.7"/><circle cx="1402.8" cy="671.1" r="3.7"/><circle cx="1399" cy="673.4" r="3.7"/><circle cx="1426" cy="670.3" r="3.7"/><circle cx="1448.4" cy="662.6" r="3.7"/><circle cx="1452.8" cy="661" r="3.7"/><circle cx="1454.6" cy="669.5" r="3.7"/><circle cx="1450" cy="673.4" r="3.7"/><circle cx="1477.5" cy="482.2" r="3.7"/><circle cx="1483.5" cy="484.1" r="3.7"/><circle cx="1480.1" cy="491.8" r="3.7"/><circle cx="1484.7" cy="494.1" r="3.7"/><circle cx="1492.5" cy="492.6" r="3.7"/><circle cx="1491.7" cy="502.3" r="3.7"/><circle cx="1495.5" cy="502.9" r="3.7"/><circle cx="1497.5" cy="514.2" r="3.7"/><circle cx="1502.5" cy="518.1" r="3.7"/><circle cx="1494" cy="528.4" r="3.7"/><circle cx="1522.6" cy="517" r="3.7"/><circle cx="1532.3" cy="522.7" r="3.7"/><circle cx="1525.7" cy="523.5" r="3.7"/><circle cx="1528" cy="525.8" r="3.7"/><circle cx="1523.4" cy="527.4" r="3.7"/><circle cx="1522.6" cy="534.3" r="3.7"/><circle cx="1479.8" cy="542.8" r="3.7"/><circle cx="1481.6" cy="546.7" r="3.7"/><circle cx="1478.5" cy="549" r="3.7"/><circle cx="1484.7" cy="549.8" r="3.7"/><circle cx="1489.4" cy="555.5" r="3.7"/><circle cx="1519.8" cy="551.3" r="3.7"/><circle cx="1524.9" cy="553.6" r="3.7"/><circle cx="1528" cy="555.2" r="3.7"/><circle cx="1515.6" cy="558.7" r="3.7"/><circle cx="1504.8" cy="566" r="3.7"/><circle cx="1505.9" cy="572.2" r="3.7"/><circle cx="1517.2" cy="582.2" r="3.7"/><circle cx="1511.8" cy="584.5" r="3.7"/><circle cx="1508.7" cy="586.1" r="3.7"/><circle cx="1487.8" cy="587.6" r="3.7"/><circle cx="1480.1" cy="589.9" r="3.7"/><circle cx="1489.4" cy="595.8" r="3.7"/><circle cx="1520" cy="594.6" r="3.7"/><circle cx="1511" cy="605.1" r="3.7"/><circle cx="1513" cy="615" r="3.7"/><circle cx="1549.9" cy="562.9" r="3.7"/><circle cx="1552.7" cy="562.9" r="3.7"/><circle cx="1560.4" cy="565.2" r="3.7"/><circle cx="1554.3" cy="568.3" r="3.7"/><circle cx="1571.3" cy="571.4" r="3.7"/><circle cx="1584.9" cy="563.7" r="3.7"/><circle cx="1587.5" cy="567.5" r="3.7"/><circle cx="1582.8" cy="570.3" r="3.7"/><circle cx="1574.7" cy="588.9" r="3.7"/><circle cx="1572" cy="594.6" r="3.7"/><circle cx="1573.6" cy="596.9" r="3.7"/><circle cx="1566.9" cy="600" r="3.7"/><circle cx="1571.6" cy="601.5" r="3.7"/><circle cx="1562.3" cy="607.7" r="3.7"/><circle cx="1575.1" cy="609.3" r="3.7"/><circle cx="1548.1" cy="610" r="3.7"/><circle cx="1558.6" cy="621.9" r="3.7"/><circle cx="1549.2" cy="624.7" r="3.7"/><circle cx="1601.4" cy="627.8" r="3.7"/><circle cx="1599.8" cy="630.6" r="3.7"/><circle cx="1598.3" cy="634" r="3.7"/><circle cx="1503.7" cy="628.6" r="3.7"/><circle cx="1494.5" cy="631.4" r="3.7"/><circle cx="1492.8" cy="642.5" r="3.7"/><circle cx="1494.8" cy="650.2" r="3.7"/><circle cx="1494.3" cy="653.3" r="3.7"/><circle cx="1493.2" cy="656.4" r="3.7"/><circle cx="1490.6" cy="659.5" r="3.7"/><circle cx="1503.7" cy="651.7" r="3.7"/><circle cx="1508.7" cy="654.4" r="3.7"/><circle cx="1595.2" cy="669.2" r="3.7"/><circle cx="1601.4" cy="670.3" r="3.7"/><circle cx="1574.3" cy="670.3" r="3.7"/><circle cx="1613" cy="671.8" r="3.7"/><circle cx="1452.8" cy="682.9" r="3.7"/><circle cx="1442.2" cy="683.2" r="3.7"/><circle cx="1438.4" cy="684.7" r="3.7"/><circle cx="1432.2" cy="684.7" r="3.7"/><circle cx="1438.4" cy="689.4" r="3.7"/><circle cx="1324.8" cy="685.2" r="3.7"/><circle cx="1343.4" cy="680.1" r="3.7"/><circle cx="1399" cy="712.8" r="3.7"/><circle cx="1392.8" cy="715.9" r="3.7"/><circle cx="1395.6" cy="721" r="3.7"/><circle cx="1404.4" cy="724.1" r="3.7"/><circle cx="1404.9" cy="727.7" r="3.7"/><circle cx="1409.5" cy="737.7" r="3.7"/><circle cx="1403.6" cy="748.5" r="3.7"/><circle cx="1449.2" cy="719.5" r="3.7"/><circle cx="1434.5" cy="723.7" r="3.7"/><circle cx="1427.3" cy="730.6" r="3.7"/><circle cx="1437.2" cy="733.4" r="3.7"/><circle cx="1431.7" cy="742.4" r="3.7"/><circle cx="1423.7" cy="756.6" r="3.7"/><circle cx="1435.6" cy="760.1" r="3.7"/><circle cx="1412.4" cy="770.9" r="3.7"/><circle cx="1365.8" cy="748.1" r="3.7"/><circle cx="1375.8" cy="748.9" r="3.7"/><circle cx="1375" cy="751.2" r="3.7"/><circle cx="1360.7" cy="751.9" r="3.7"/><circle cx="1458" cy="776.7" r="3.7"/><circle cx="1473" cy="791.3" r="3.7"/><circle cx="1471.6" cy="830.4" r="3.7"/><circle cx="1470.1" cy="843.9" r="3.7"/><circle cx="1511.3" cy="687.5" r="3.7"/><circle cx="1517.5" cy="693.2" r="3.7"/><circle cx="1509.4" cy="698.6" r="3.7"/><circle cx="1511.8" cy="701.7" r="3.7"/><circle cx="1507.9" cy="705.6" r="3.7"/><circle cx="1505.6" cy="708.7" r="3.7"/><circle cx="1499.9" cy="710.2" r="3.7"/><circle cx="1520.3" cy="708.2" r="3.7"/><circle cx="1570.8" cy="707.4" r="3.7"/><circle cx="1505.1" cy="733.4" r="3.7"/><circle cx="1507.1" cy="775.1" r="3.7"/><circle cx="1511.8" cy="779.3" r="3.7"/><circle cx="1504" cy="785.9" r="3.7"/><circle cx="1507.1" cy="785.5" r="3.7"/><circle cx="1526.4" cy="799.5" r="3.7"/><circle cx="1487.5" cy="818.4" r="3.7"/>
</g>
<rect x="1263" y="464.5" width="405.7" height="399.7" fill="none" stroke="#333333" stroke-width="1.1"/>
<line x1="1370.5" y1="864.2" x2="1370.5" y2="869" stroke="#333333" stroke-width="1.5"/>
<text x="1370.5" y="882.7" font-size="14.3" text-anchor="middle" fill="#4D4D4D">−20</text>
<line x1="1482" y1="864.2" x2="1482" y2="869" stroke="#333333" stroke-width="1.5"/>
<text x="1482" y="882.7" font-size="14.3" text-anchor="middle" fill="#4D4D4D">0</text>
<line x1="1593.8" y1="864.2" x2="1593.8" y2="869" stroke="#333333" stroke-width="1.5"/>
<text x="1593.8" y="882.7" font-size="14.3" text-anchor="middle" fill="#4D4D4D">20</text>
<line x1="1258.2" y1="471.9" x2="1263" y2="471.9" stroke="#333333" stroke-width="1.5"/>
<text x="1254.6" y="477" font-size="14.3" text-anchor="end" fill="#4D4D4D">30</text>
<line x1="1258.2" y1="542.9" x2="1263" y2="542.9" stroke="#333333" stroke-width="1.5"/>
<text x="1254.6" y="548" font-size="14.3" text-anchor="end" fill="#4D4D4D">20</text>
<line x1="1258.2" y1="613.8" x2="1263" y2="613.8" stroke="#333333" stroke-width="1.5"/>
<text x="1254.6" y="618.9" font-size="14.3" text-anchor="end" fill="#4D4D4D">10</text>
<line x1="1258.2" y1="684.8" x2="1263" y2="684.8" stroke="#333333" stroke-width="1.5"/>
<text x="1254.6" y="689.9" font-size="14.3" text-anchor="end" fill="#4D4D4D">0</text>
<line x1="1258.2" y1="755.7" x2="1263" y2="755.7" stroke="#333333" stroke-width="1.5"/>
<text x="1254.6" y="760.8" font-size="14.3" text-anchor="end" fill="#4D4D4D">−10</text>
<line x1="1258.2" y1="826.7" x2="1263" y2="826.7" stroke="#333333" stroke-width="1.5"/>
<text x="1254.6" y="831.8" font-size="14.3" text-anchor="end" fill="#4D4D4D">−20</text>
<text x="1465.8" y="902.6" font-size="16.9" text-anchor="middle">tSNE1</text>
<text x="1223.2" y="664.4" font-size="17.2" text-anchor="middle" transform="rotate(-90 1223.2 664.4)">tSNE2</text>
<text x="1695.5" y="638.6" font-size="17.3">Risk</text>
<g fill="#FF0000">
<circle cx="1708.8" cy="663.4" r="3.9"/>
</g>
<g fill="#0000FF">
<circle cx="1708.8" cy="690.7" r="3.9"/>
</g>
<text x="1731" y="668.5" font-size="14.2">high</text>
<text x="1731" y="695.6" font-size="14.2">low</text>
</g>
<g id="panel-f">
<text x="2.8" y="967" font-size="43" font-weight="bold" font-family='"Liberation Serif", "Times New Roman", serif'>f</text>
<text x="244.8" y="914.8" font-size="12">Risk</text>
<rect x="274.4" y="901" width="19" height="18.7" fill="#FBB4B4"/>
<line x1="275.8" y1="910.2" x2="292" y2="910.2" stroke="#FF0000" stroke-width="2.9"/>
<line x1="283.9" y1="904.8" x2="283.9" y2="913" stroke="#FF0000" stroke-width="1.6"/>
<text x="300.2" y="914.8" font-size="12">High risk</text>
<rect x="353.4" y="901" width="19" height="18.7" fill="#B4B4FB"/>
<line x1="354.8" y1="910.2" x2="371" y2="910.2" stroke="#0000FF" stroke-width="2.9"/>
<line x1="362.9" y1="904.8" x2="362.9" y2="913" stroke="#0000FF" stroke-width="1.6"/>
<text x="378.8" y="914.8" font-size="12">Low risk</text>
<path d="M124.5 951.8 L128.7 956.1 L131.6 963.7 L135.4 970.4 L140.2 980 L144 986.7 L148.8 994.3 L153.6 1003.9 L157.4 1011.6 L161.2 1021.1 L166 1030.7 L171.8 1036.4 L176.6 1042.2 L181.3 1049.8 L186.1 1056.5 L190 1062.3 L193.8 1069 L196.7 1077.6 L200.5 1084.3 L205.3 1089.1 L209.1 1094.8 L210.6 1105.3 L214.8 1110.1 L224.4 1112 L227.3 1114.9 L240.7 1115.9 L242.6 1118.7 L260.8 1119.7 L261.7 1122.6 L273.2 1123.5 L275.1 1127 L315.3 1127 L316.3 1135.4 L316.2 1135.2 L409 1135.2 L409 1150.5 L540.5 1150.5" fill="none" stroke="#FF0000" stroke-width="2.9" stroke-linejoin="miter"/>
<path d="M124.5 951.8 L128.7 953.2 L134.4 958 L141.1 962.8 L146.9 969.4 L151.7 976.1 L157.4 979 L163.2 982.8 L166 986.7 L169.9 992.4 L173.7 998.2 L176.6 1004.9 L180.4 1011.6 L182.3 1017.3 L190 1019.2 L193.8 1025 L197.6 1030.7 L197.6 1033 L210 1033 L212.9 1034.5 L216.4 1039.3 L217.1 1047.9 L221.5 1051.7 L225.4 1056.5 L227.3 1063.2 L230.1 1067.1 L245.5 1067.1 L248.3 1069 L251.2 1071.8 L256.9 1073.8 L257.9 1077.6 L274.2 1077.6 L275.1 1088.1 L278 1089.1 L278.4 1099.2 L305.2 1099.2 L305.7 1113 L305.7 1112.6 L510.1 1112.6" fill="none" stroke="#0000FF" stroke-width="2.9" stroke-linejoin="miter"/>
<path d="M122.2 953h7M125.7 949.5v7 M124.6 955.4h7M128.1 951.9v7 M126.1 958.4h7M129.6 954.9v7 M127.3 961.5h7M130.8 958v7 M128.6 964.6h7M132.1 961.1v7 M130.3 967.6h7M133.8 964.1v7 M132 970.5h7M135.5 967v7 M133.5 973.5h7M137 970v7 M135 976.5h7M138.5 973v7 M136.5 979.6h7M140 976.1v7 M138.1 982.5h7M141.6 979v7 M139.8 985.4h7M143.3 981.9v7 M141.6 988.3h7M145.1 984.8v7 M143.3 991.2h7M146.8 987.7v7 M145.1 994.1h7M148.6 990.6v7 M146.7 997.1h7M150.2 993.6v7 M148.2 1000.1h7M151.7 996.6v7 M149.7 1003.1h7M153.2 999.6v7 M151.2 1006.1h7M154.7 1002.6v7 M152.7 1009.2h7M156.2 1005.7v7 M154.2 1012.2h7M157.7 1008.7v7 M155.4 1015.3h7M158.9 1011.8v7 M156.7 1018.5h7M160.2 1015v7 M158 1021.6h7M161.5 1018.1v7 M159.5 1024.6h7M163 1021.1v7 M161 1027.6h7M164.5 1024.1v7 M162.5 1030.7h7M166 1027.2v7 M164.9 1033h7M168.4 1029.5v7 M167.3 1035.4h7M170.8 1031.9v7 M169.5 1037.9h7M173 1034.4v7 M171.7 1040.5h7M175.2 1037v7 M173.7 1043.2h7M177.2 1039.7v7 M175.5 1046.1h7M179 1042.6v7 M177.3 1049h7M180.8 1045.5v7 M179.2 1051.7h7M182.7 1048.2v7 M181.2 1054.5h7M184.7 1051v7 M183.1 1057.3h7M186.6 1053.8v7 M185 1060.1h7M188.5 1056.6v7 M186.8 1062.9h7M190.3 1059.4v7 M188.5 1065.8h7M192 1062.3v7 M190.2 1068.8h7M193.7 1065.3v7 M191.3 1072h7M194.8 1068.5v7 M192.3 1075.2h7M195.8 1071.7v7 M193.6 1078.3h7M197.1 1074.8v7 M195.2 1081.2h7M198.7 1077.7v7 M196.9 1084.2h7M200.4 1080.7v7 M199.3 1086.6h7M202.8 1083.1v7 M201.7 1089h7M205.2 1085.5v7 M203.6 1091.8h7M207.1 1088.3v7 M205.4 1094.6h7M208.9 1091.1v7 M206 1097.9h7M209.5 1094.4v7 M206.5 1101.2h7M210 1097.7v7 M207 1104.5h7M210.5 1101v7 M208.8 1107.3h7M212.3 1103.8v7 M211.1 1109.8h7M214.6 1106.3v7 M214.2 1110.7h7M217.7 1107.2v7 M217.5 1111.4h7M221 1107.9v7 M220.9 1112h7M224.4 1108.5v7 M223.3 1114.4h7M226.8 1110.9v7 M226.4 1115.1h7M229.9 1111.6v7 M229.8 1115.3h7M233.3 1111.8v7 M233.2 1115.6h7M236.7 1112.1v7 M236.5 1115.8h7M240 1112.3v7 M238.7 1118.1h7M242.2 1114.6v7 M241.7 1118.9h7M245.2 1115.4v7 M245.1 1119h7M248.6 1115.5v7 M248.5 1119.2h7M252 1115.7v7 M251.9 1119.4h7M255.4 1115.9v7 M255.2 1119.6h7M258.7 1116.1v7 M257.7 1121h7M261.2 1117.5v7 M269.6 1121.5h7M273.1 1118v7 M273.6 1126.3h7M277.1 1122.8v7 M282.8 1126.3h7M286.3 1122.8v7 M291.4 1126.3h7M294.9 1122.8v7 M295.7 1126.3h7M299.2 1122.8v7 M307.5 1126.3h7M311 1122.8v7 M329.1 1133.9h7M332.6 1130.4v7 M336.1 1133.9h7M339.6 1130.4v7 M393.7 1133.9h7M397.2 1130.4v7 M525.4 1149.4h7M528.9 1145.9v7 M535.8 1149.4h7M539.3 1145.9v7" stroke="#FF0000" stroke-width="1" fill="none"/>
<path d="M122.4 952.3h7M125.9 948.8v7 M125.1 953.2h7M128.6 949.7v7 M127.4 955h7M130.9 951.5v7 M129.6 956.8h7M133.1 953.3v7 M131.9 958.6h7M135.4 955.1v7 M134.2 960.3h7M137.7 956.8v7 M136.6 962h7M140.1 958.5v7 M138.7 964h7M142.2 960.5v7 M140.6 966.2h7M144.1 962.7v7 M142.5 968.4h7M146 964.9v7 M144.2 970.6h7M147.7 967.1v7 M145.9 973h7M149.4 969.5v7 M147.6 975.3h7M151.1 971.8v7 M149.9 977h7M153.4 973.5v7 M152.5 978.3h7M156 974.8v7 M155 979.7h7M158.5 976.2v7 M157.4 981.3h7M160.9 977.8v7 M159.8 983h7M163.3 979.5v7 M161.5 985.3h7M165 981.8v7 M163.2 987.7h7M166.7 984.2v7 M164.8 990.1h7M168.3 986.6v7 M166.4 992.5h7M169.9 989v7 M168 994.9h7M171.5 991.4v7 M169.6 997.3h7M173.1 993.8v7 M170.9 999.9h7M174.4 996.4v7 M172.1 1002.5h7M175.6 999v7 M173.2 1005.2h7M176.7 1001.7v7 M174.7 1007.7h7M178.2 1004.2v7 M176.1 1010.2h7M179.6 1006.7v7 M177.3 1012.8h7M180.8 1009.3v7 M178.2 1015.6h7M181.7 1012.1v7 M179.8 1017.6h7M183.3 1014.1v7 M182.6 1018.3h7M186.1 1014.8v7 M185.5 1019h7M189 1015.5v7 M187.5 1020.8h7M191 1017.3v7 M189.1 1023.2h7M192.6 1019.7v7 M190.7 1025.6h7M194.2 1022.1v7 M192.3 1028h7M195.8 1024.5v7 M193.9 1030.4h7M197.4 1026.9v7 M194.4 1033h7M197.9 1029.5v7 M197.2 1033h7M200.7 1029.5v7 M200.1 1033h7M203.6 1029.5v7 M203 1033h7M206.5 1029.5v7 M205.9 1033h7M209.4 1029.5v7 M208.6 1034.1h7M212.1 1030.6v7 M210.5 1036.1h7M214 1032.6v7 M212.2 1038.4h7M215.7 1034.9v7 M213 1041.1h7M216.5 1037.6v7 M213.3 1044h7M216.8 1040.5v7 M213.5 1046.9h7M217 1043.4v7 M215 1049.1h7M218.5 1045.6v7 M217.2 1051h7M220.7 1047.5v7 M219.2 1053.2h7M222.7 1049.7v7 M221 1055.4h7M224.5 1051.9v7 M222.3 1058h7M225.8 1054.5v7 M223.1 1060.7h7M226.6 1057.2v7 M224 1063.5h7M227.5 1060v7 M225.7 1065.8h7M229.2 1062.3v7 M228 1067.1h7M231.5 1063.6v7 M230.9 1067.1h7M234.4 1063.6v7 M233.7 1067.1h7M237.2 1063.6v7 M236.6 1067.1h7M240.1 1063.6v7 M239.5 1067.1h7M243 1063.6v7 M242.4 1067.3h7M245.9 1063.8v7 M244.8 1068.9h7M248.3 1065.4v7 M246.8 1071h7M250.3 1067.5v7 M249.3 1072.4h7M252.8 1068.9v7 M252 1073.3h7M255.5 1069.8v7 M253.8 1075.1h7M257.3 1071.6v7 M254.7 1077.6h7M258.2 1074.1v7 M257.6 1077.6h7M261.1 1074.1v7 M260.5 1077.6h7M264 1074.1v7 M263.4 1077.6h7M266.9 1074.1v7 M266.3 1077.6h7M269.8 1074.1v7 M269.2 1077.6h7M272.7 1074.1v7 M310.2 1111.8h7M313.7 1108.3v7 M331.5 1111.8h7M335 1108.3v7 M346.6 1111.8h7M350.1 1108.3v7 M406.6 1111.8h7M410.1 1108.3v7 M506.3 1111.8h7M509.8 1108.3v7 M298.1 1098.1h7M301.6 1094.6v7" stroke="#0000FF" stroke-width="1" fill="none"/>
<path d="M124.5 951.3 L130.6 958 L138.3 969.4 L145.9 980.9 L151.7 990.5 L157.4 1000.1 L163.2 1011.6 L168.9 1021.1 L176.6 1028.8 L182.3 1036.4 L188 1044.1 L193.8 1051.7 L199.5 1061.3 L204.3 1069 L210 1072.8 L211 1086.2 L214.8 1089.1 L226.3 1090 L241.6 1092.9 L242.6 1095.8 L256.9 1096.1 L257.3 1095.7 L274.2 1095.7 L274.2 1102.1 L317 1102.1 L317 1106.2 L409 1106.2 L409 1103.3 L538.9 1103.3 L538.9 1168.8 L409 1168.8 L409 1153 L317 1153 L317 1144.6 L274.2 1144.6 L274.2 1140.9 L261.7 1140.7 L260.8 1137.5 L242.6 1136.9 L240.7 1133.1 L227.3 1132.1 L224.4 1129.3 L216.7 1128.3 L211 1123.5 L209.1 1113 L204.3 1107.2 L199.5 1099.6 L195.7 1091.9 L191.9 1082.4 L187.1 1072.8 L182.3 1065.1 L176.6 1057.5 L170.8 1049.8 L166 1044.1 L160.3 1034.5 L157.4 1025 L153.6 1015.4 L148.8 1005.8 L144 996.2 L139.2 987.6 L134.4 976.1 L128.7 963.7 L124.5 952.6 Z" fill="#FF0000" stroke="none" stroke-width="0" fill-opacity="0.3"/>
<path d="M124.5 951.3 L138.3 958.9 L147.8 968.5 L155.5 970.4 L165.1 976.1 L170.8 981.9 L176.6 992.4 L182.3 1002 L190 1002.9 L195.7 1011.6 L211 1013.5 L216.7 1019.2 L219.6 1026.9 L226.3 1030.7 L229.2 1039.9 L248.3 1040.3 L249.3 1044.1 L256.9 1045 L257.9 1048.9 L274.2 1048.9 L278 1053.7 L278.4 1059 L305.7 1059 L306.3 1065.1 L305.7 1065 L509.8 1065 L509.8 1140.9 L305.7 1140.9 L305.7 1127.9 L274.2 1127.9 L274.2 1102.1 L257.3 1102.1 L256.9 1100.6 L256.9 1095.8 L249.3 1095.4 L248.3 1090 L230.1 1089.6 L226.3 1078.5 L222.5 1073.8 L218.7 1067.1 L212 1059.4 L210 1052.7 L199.5 1051.7 L195.7 1046 L190 1037.4 L183.3 1034.5 L178.5 1021.1 L172.7 1011.6 L166 1002 L163.2 994.3 L155.5 989.5 L149.8 985.7 L143.1 976.1 L134.4 962.8 L124.5 952.6 Z" fill="#0000FF" stroke="none" stroke-width="0" fill-opacity="0.3"/>
<line x1="103.5" y1="942.3" x2="103.5" y2="1193.1" stroke="#000" stroke-width="1.55"/>
<line x1="102.9" y1="1192.5" x2="563.5" y2="1192.5" stroke="#000" stroke-width="1.55"/>
<line x1="99.5" y1="952.8" x2="103.5" y2="952.8" stroke="#000" stroke-width="1.55"/>
<text x="97.3" y="957.8" font-size="14.0" text-anchor="end">1.00</text>
<line x1="99.5" y1="1009.7" x2="103.5" y2="1009.7" stroke="#000" stroke-width="1.55"/>
<text x="97.3" y="1014.7" font-size="14.0" text-anchor="end">0.75</text>
<line x1="99.5" y1="1066.7" x2="103.5" y2="1066.7" stroke="#000" stroke-width="1.55"/>
<text x="97.3" y="1071.7" font-size="14.0" text-anchor="end">0.50</text>
<line x1="99.5" y1="1123.6" x2="103.5" y2="1123.6" stroke="#000" stroke-width="1.55"/>
<text x="97.3" y="1128.6" font-size="14.0" text-anchor="end">0.25</text>
<line x1="99.5" y1="1180.5" x2="103.5" y2="1180.5" stroke="#000" stroke-width="1.55"/>
<text x="97.3" y="1185.5" font-size="14.0" text-anchor="end">0.00</text>
<line x1="124.6" y1="1192.5" x2="124.6" y2="1196.6" stroke="#000" stroke-width="1.55"/>
<text x="124.6" y="1208.7" font-size="14.0" text-anchor="middle">0</text>
<line x1="145.5" y1="1192.5" x2="145.5" y2="1196.6" stroke="#000" stroke-width="1.55"/>
<text x="145.5" y="1208.7" font-size="14.0" text-anchor="middle">1</text>
<line x1="166.4" y1="1192.5" x2="166.4" y2="1196.6" stroke="#000" stroke-width="1.55"/>
<text x="166.4" y="1208.7" font-size="14.0" text-anchor="middle">2</text>
<line x1="187.3" y1="1192.5" x2="187.3" y2="1196.6" stroke="#000" stroke-width="1.55"/>
<text x="187.3" y="1208.7" font-size="14.0" text-anchor="middle">3</text>
<line x1="208.2" y1="1192.5" x2="208.2" y2="1196.6" stroke="#000" stroke-width="1.55"/>
<text x="208.2" y="1208.7" font-size="14.0" text-anchor="middle">4</text>
<line x1="229.1" y1="1192.5" x2="229.1" y2="1196.6" stroke="#000" stroke-width="1.55"/>
<text x="229.1" y="1208.7" font-size="14.0" text-anchor="middle">5</text>
<line x1="249.9" y1="1192.5" x2="249.9" y2="1196.6" stroke="#000" stroke-width="1.55"/>
<text x="249.9" y="1208.7" font-size="14.0" text-anchor="middle">6</text>
<line x1="270.8" y1="1192.5" x2="270.8" y2="1196.6" stroke="#000" stroke-width="1.55"/>
<text x="270.8" y="1208.7" font-size="14.0" text-anchor="middle">7</text>
<line x1="291.7" y1="1192.5" x2="291.7" y2="1196.6" stroke="#000" stroke-width="1.55"/>
<text x="291.7" y="1208.7" font-size="14.0" text-anchor="middle">8</text>
<line x1="312.6" y1="1192.5" x2="312.6" y2="1196.6" stroke="#000" stroke-width="1.55"/>
<text x="312.6" y="1208.7" font-size="14.0" text-anchor="middle">9</text>
<line x1="333.5" y1="1192.5" x2="333.5" y2="1196.6" stroke="#000" stroke-width="1.55"/>
<text x="333.5" y="1208.7" font-size="14.0" text-anchor="middle">10</text>
<line x1="354.4" y1="1192.5" x2="354.4" y2="1196.6" stroke="#000" stroke-width="1.55"/>
<text x="354.4" y="1208.7" font-size="14.0" text-anchor="middle">11</text>
<line x1="375.3" y1="1192.5" x2="375.3" y2="1196.6" stroke="#000" stroke-width="1.55"/>
<text x="375.3" y="1208.7" font-size="14.0" text-anchor="middle">12</text>
<line x1="396.2" y1="1192.5" x2="396.2" y2="1196.6" stroke="#000" stroke-width="1.55"/>
<text x="396.2" y="1208.7" font-size="14.0" text-anchor="middle">13</text>
<line x1="417.1" y1="1192.5" x2="417.1" y2="1196.6" stroke="#000" stroke-width="1.55"/>
<text x="417.1" y="1208.7" font-size="14.0" text-anchor="middle">14</text>
<line x1="438" y1="1192.5" x2="438" y2="1196.6" stroke="#000" stroke-width="1.55"/>
<text x="438" y="1208.7" font-size="14.0" text-anchor="middle">15</text>
<line x1="458.8" y1="1192.5" x2="458.8" y2="1196.6" stroke="#000" stroke-width="1.55"/>
<text x="458.8" y="1208.7" font-size="14.0" text-anchor="middle">16</text>
<line x1="479.7" y1="1192.5" x2="479.7" y2="1196.6" stroke="#000" stroke-width="1.55"/>
<text x="479.7" y="1208.7" font-size="14.0" text-anchor="middle">17</text>
<line x1="500.6" y1="1192.5" x2="500.6" y2="1196.6" stroke="#000" stroke-width="1.55"/>
<text x="500.6" y="1208.7" font-size="14.0" text-anchor="middle">18</text>
<line x1="521.5" y1="1192.5" x2="521.5" y2="1196.6" stroke="#000" stroke-width="1.55"/>
<text x="521.5" y="1208.7" font-size="14.0" text-anchor="middle">19</text>
<line x1="542.4" y1="1192.5" x2="542.4" y2="1196.6" stroke="#000" stroke-width="1.55"/>
<text x="542.4" y="1208.7" font-size="14.0" text-anchor="middle">20</text>
<text x="333.7" y="1227.4" font-size="16.7" text-anchor="middle">Time(years)</text>
<text x="34.4" y="1067.5" font-size="16.7" text-anchor="middle" transform="rotate(-90 34.4 1067.5)">Survival probability</text>
<text x="132.8" y="1141.3" font-size="16.2">p &lt; 0.001</text>
<line x1="103.5" y1="1270.4" x2="103.5" y2="1310.1" stroke="#000" stroke-width="1.55"/>
<line x1="102.9" y1="1309.5" x2="563.5" y2="1309.5" stroke="#000" stroke-width="1.55"/>
<text x="96.5" y="1284.5" font-size="14.0" text-anchor="end" fill="#FF0000">High risk</text>
<text x="96.5" y="1302.4" font-size="14.0" text-anchor="end" fill="#0000FF">Low risk</text>
<line x1="99.5" y1="1281.2" x2="103.5" y2="1281.2" stroke="#000" stroke-width="1.55"/>
<line x1="99.5" y1="1299.2" x2="103.5" y2="1299.2" stroke="#000" stroke-width="1.55"/>
<text x="124.6" y="1286" font-size="15.3" text-anchor="middle">228</text>
<text x="124.6" y="1304.2" font-size="15.3" text-anchor="middle">229</text>
<line x1="124.6" y1="1309.5" x2="124.6" y2="1313.6" stroke="#000" stroke-width="1.55"/>
<text x="124.6" y="1325.9" font-size="14.0" text-anchor="middle">0</text>
<text x="145.5" y="1286" font-size="15.3" text-anchor="middle">171</text>
<text x="145.5" y="1304.2" font-size="15.3" text-anchor="middle">195</text>
<line x1="145.5" y1="1309.5" x2="145.5" y2="1313.6" stroke="#000" stroke-width="1.55"/>
<text x="145.5" y="1325.9" font-size="14.0" text-anchor="middle">1</text>
<text x="166.4" y="1286" font-size="15.3" text-anchor="middle">97</text>
<text x="166.4" y="1304.2" font-size="15.3" text-anchor="middle">108</text>
<line x1="166.4" y1="1309.5" x2="166.4" y2="1313.6" stroke="#000" stroke-width="1.55"/>
<text x="166.4" y="1325.9" font-size="14.0" text-anchor="middle">2</text>
<text x="187.3" y="1286" font-size="15.3" text-anchor="middle">57</text>
<text x="187.3" y="1304.2" font-size="15.3" text-anchor="middle">67</text>
<line x1="187.3" y1="1309.5" x2="187.3" y2="1313.6" stroke="#000" stroke-width="1.55"/>
<text x="187.3" y="1325.9" font-size="14.0" text-anchor="middle">3</text>
<text x="208.2" y="1286" font-size="15.3" text-anchor="middle">30</text>
<text x="208.2" y="1304.2" font-size="15.3" text-anchor="middle">43</text>
<line x1="208.2" y1="1309.5" x2="208.2" y2="1313.6" stroke="#000" stroke-width="1.55"/>
<text x="208.2" y="1325.9" font-size="14.0" text-anchor="middle">4</text>
<text x="229.1" y="1286" font-size="15.3" text-anchor="middle">20</text>
<text x="229.1" y="1304.2" font-size="15.3" text-anchor="middle">30</text>
<line x1="229.1" y1="1309.5" x2="229.1" y2="1313.6" stroke="#000" stroke-width="1.55"/>
<text x="229.1" y="1325.9" font-size="14.0" text-anchor="middle">5</text>
<text x="249.9" y="1286" font-size="15.3" text-anchor="middle">15</text>
<text x="249.9" y="1304.2" font-size="15.3" text-anchor="middle">21</text>
<line x1="249.9" y1="1309.5" x2="249.9" y2="1313.6" stroke="#000" stroke-width="1.55"/>
<text x="249.9" y="1325.9" font-size="14.0" text-anchor="middle">6</text>
<text x="270.8" y="1286" font-size="15.3" text-anchor="middle">14</text>
<text x="270.8" y="1304.2" font-size="15.3" text-anchor="middle">12</text>
<line x1="270.8" y1="1309.5" x2="270.8" y2="1313.6" stroke="#000" stroke-width="1.55"/>
<text x="270.8" y="1325.9" font-size="14.0" text-anchor="middle">7</text>
<text x="291.7" y="1286" font-size="15.3" text-anchor="middle">10</text>
<text x="291.7" y="1304.2" font-size="15.3" text-anchor="middle">7</text>
<line x1="291.7" y1="1309.5" x2="291.7" y2="1313.6" stroke="#000" stroke-width="1.55"/>
<text x="291.7" y="1325.9" font-size="14.0" text-anchor="middle">8</text>
<text x="312.6" y="1286" font-size="15.3" text-anchor="middle">7</text>
<text x="312.6" y="1304.2" font-size="15.3" text-anchor="middle">5</text>
<line x1="312.6" y1="1309.5" x2="312.6" y2="1313.6" stroke="#000" stroke-width="1.55"/>
<text x="312.6" y="1325.9" font-size="14.0" text-anchor="middle">9</text>
<text x="333.5" y="1286" font-size="15.3" text-anchor="middle">5</text>
<text x="333.5" y="1304.2" font-size="15.3" text-anchor="middle">4</text>
<line x1="333.5" y1="1309.5" x2="333.5" y2="1313.6" stroke="#000" stroke-width="1.55"/>
<text x="333.5" y="1325.9" font-size="14.0" text-anchor="middle">10</text>
<text x="354.4" y="1286" font-size="15.3" text-anchor="middle">4</text>
<text x="354.4" y="1304.2" font-size="15.3" text-anchor="middle">2</text>
<line x1="354.4" y1="1309.5" x2="354.4" y2="1313.6" stroke="#000" stroke-width="1.55"/>
<text x="354.4" y="1325.9" font-size="14.0" text-anchor="middle">11</text>
<text x="375.3" y="1286" font-size="15.3" text-anchor="middle">4</text>
<text x="375.3" y="1304.2" font-size="15.3" text-anchor="middle">2</text>
<line x1="375.3" y1="1309.5" x2="375.3" y2="1313.6" stroke="#000" stroke-width="1.55"/>
<text x="375.3" y="1325.9" font-size="14.0" text-anchor="middle">12</text>
<text x="396.2" y="1286" font-size="15.3" text-anchor="middle">4</text>
<text x="396.2" y="1304.2" font-size="15.3" text-anchor="middle">2</text>
<line x1="396.2" y1="1309.5" x2="396.2" y2="1313.6" stroke="#000" stroke-width="1.55"/>
<text x="396.2" y="1325.9" font-size="14.0" text-anchor="middle">13</text>
<text x="417.1" y="1286" font-size="15.3" text-anchor="middle">2</text>
<text x="417.1" y="1304.2" font-size="15.3" text-anchor="middle">1</text>
<line x1="417.1" y1="1309.5" x2="417.1" y2="1313.6" stroke="#000" stroke-width="1.55"/>
<text x="417.1" y="1325.9" font-size="14.0" text-anchor="middle">14</text>
<text x="438" y="1286" font-size="15.3" text-anchor="middle">2</text>
<text x="438" y="1304.2" font-size="15.3" text-anchor="middle">1</text>
<line x1="438" y1="1309.5" x2="438" y2="1313.6" stroke="#000" stroke-width="1.55"/>
<text x="438" y="1325.9" font-size="14.0" text-anchor="middle">15</text>
<text x="458.8" y="1286" font-size="15.3" text-anchor="middle">2</text>
<text x="458.8" y="1304.2" font-size="15.3" text-anchor="middle">1</text>
<line x1="458.8" y1="1309.5" x2="458.8" y2="1313.6" stroke="#000" stroke-width="1.55"/>
<text x="458.8" y="1325.9" font-size="14.0" text-anchor="middle">16</text>
<text x="479.7" y="1286" font-size="15.3" text-anchor="middle">2</text>
<text x="479.7" y="1304.2" font-size="15.3" text-anchor="middle">1</text>
<line x1="479.7" y1="1309.5" x2="479.7" y2="1313.6" stroke="#000" stroke-width="1.55"/>
<text x="479.7" y="1325.9" font-size="14.0" text-anchor="middle">17</text>
<text x="500.6" y="1286" font-size="15.3" text-anchor="middle">2</text>
<text x="500.6" y="1304.2" font-size="15.3" text-anchor="middle">1</text>
<line x1="500.6" y1="1309.5" x2="500.6" y2="1313.6" stroke="#000" stroke-width="1.55"/>
<text x="500.6" y="1325.9" font-size="14.0" text-anchor="middle">18</text>
<text x="521.5" y="1286" font-size="15.3" text-anchor="middle">2</text>
<text x="521.5" y="1304.2" font-size="15.3" text-anchor="middle">0</text>
<line x1="521.5" y1="1309.5" x2="521.5" y2="1313.6" stroke="#000" stroke-width="1.55"/>
<text x="521.5" y="1325.9" font-size="14.0" text-anchor="middle">19</text>
<text x="542.4" y="1286" font-size="15.3" text-anchor="middle">0</text>
<text x="542.4" y="1304.2" font-size="15.3" text-anchor="middle">0</text>
<line x1="542.4" y1="1309.5" x2="542.4" y2="1313.6" stroke="#000" stroke-width="1.55"/>
<text x="542.4" y="1325.9" font-size="14.0" text-anchor="middle">20</text>
<text x="333.7" y="1344.8" font-size="16.7" text-anchor="middle">Time(years)</text>
<text x="34.2" y="1290.3" font-size="16.7" text-anchor="middle" transform="rotate(-90 34.2 1290.3)">Risk</text>
</g>
<g id="panel-g">
<text x="640" y="958.5" font-size="42" font-weight="bold" font-family='"Liberation Serif", "Times New Roman", serif'>g</text>
<circle cx="676.2" cy="1218.2" r="3.95" fill="#0000FF"/><circle cx="678" cy="1203.7" r="3.95" fill="#0000FF"/><circle cx="679.2" cy="1222.3" r="3.95" fill="#0000FF"/><circle cx="680.7" cy="1222.6" r="3.95" fill="#FFA500"/><circle cx="682.2" cy="1216.4" r="3.95" fill="#FFA500"/><circle cx="683.7" cy="1216.6" r="3.95" fill="#FFA500"/><circle cx="685.2" cy="1201.2" r="3.95" fill="#0000FF"/><circle cx="686.7" cy="1219.8" r="3.95" fill="#0000FF"/><circle cx="688.2" cy="1213.5" r="3.95" fill="#0000FF"/><circle cx="689.7" cy="1222.9" r="3.95" fill="#0000FF"/><circle cx="691.6" cy="1193.1" r="3.95" fill="#0000FF"/><circle cx="692.8" cy="1221" r="3.95" fill="#0000FF"/><circle cx="694.3" cy="1213.3" r="3.95" fill="#0000FF"/><circle cx="695.8" cy="1214.1" r="3.95" fill="#FFA500"/><circle cx="697.3" cy="1220" r="3.95" fill="#0000FF"/><circle cx="698.4" cy="1191.4" r="3.95" fill="#0000FF"/><circle cx="700.5" cy="1167.3" r="3.95" fill="#0000FF"/><circle cx="701.8" cy="1218.4" r="3.95" fill="#0000FF"/><circle cx="703.3" cy="1218.6" r="3.95" fill="#0000FF"/><circle cx="704.8" cy="1219.5" r="3.95" fill="#0000FF"/><circle cx="706.4" cy="1191.9" r="3.95" fill="#0000FF"/><circle cx="707.8" cy="1202.2" r="3.95" fill="#0000FF"/><circle cx="709.3" cy="1216.7" r="3.95" fill="#FFA500"/><circle cx="710.8" cy="1215.4" r="3.95" fill="#0000FF"/><circle cx="712.3" cy="1207" r="3.95" fill="#0000FF"/><circle cx="713.8" cy="1218.4" r="3.95" fill="#0000FF"/><circle cx="715.3" cy="1213.4" r="3.95" fill="#0000FF"/><circle cx="716.8" cy="1211" r="3.95" fill="#0000FF"/><circle cx="718.3" cy="1187.2" r="3.95" fill="#0000FF"/><circle cx="719.8" cy="1211.6" r="3.95" fill="#0000FF"/><circle cx="721.3" cy="1218.8" r="3.95" fill="#0000FF"/><circle cx="722.8" cy="1223.5" r="3.95" fill="#FFA500"/><circle cx="724.3" cy="1221.5" r="3.95" fill="#0000FF"/><circle cx="725.9" cy="1221.3" r="3.95" fill="#0000FF"/><circle cx="726.7" cy="1194" r="3.95" fill="#FFA500"/><circle cx="728.9" cy="1216.1" r="3.95" fill="#0000FF"/><circle cx="730.1" cy="1193.1" r="3.95" fill="#0000FF"/><circle cx="731.9" cy="1203.7" r="3.95" fill="#0000FF"/><circle cx="733.4" cy="1216.7" r="3.95" fill="#0000FF"/><circle cx="734.9" cy="1220.5" r="3.95" fill="#FFA500"/><circle cx="736.4" cy="1215.4" r="3.95" fill="#0000FF"/><circle cx="737.9" cy="1224.4" r="3.95" fill="#0000FF"/><circle cx="739.9" cy="1196.5" r="3.95" fill="#0000FF"/><circle cx="740.9" cy="1213.7" r="3.95" fill="#0000FF"/><circle cx="742.4" cy="1214.8" r="3.95" fill="#0000FF"/><circle cx="743.9" cy="1222.7" r="3.95" fill="#0000FF"/><circle cx="745.4" cy="1202.2" r="3.95" fill="#0000FF"/><circle cx="746.9" cy="1217" r="3.95" fill="#0000FF"/><circle cx="748.4" cy="1220" r="3.95" fill="#0000FF"/><circle cx="749.9" cy="1220.9" r="3.95" fill="#0000FF"/><circle cx="751.4" cy="1223.4" r="3.95" fill="#0000FF"/><circle cx="752.9" cy="1221" r="3.95" fill="#0000FF"/><circle cx="754.4" cy="1217.6" r="3.95" fill="#0000FF"/><circle cx="755.9" cy="1215.5" r="3.95" fill="#FFA500"/><circle cx="757.7" cy="1136.8" r="3.95" fill="#0000FF"/><circle cx="759.3" cy="1180" r="3.95" fill="#0000FF"/><circle cx="760.5" cy="1217.9" r="3.95" fill="#0000FF"/><circle cx="762" cy="1221" r="3.95" fill="#FFA500"/><circle cx="763.5" cy="1214.6" r="3.95" fill="#0000FF"/><circle cx="765.3" cy="1186.4" r="3.95" fill="#0000FF"/><circle cx="766.5" cy="1210" r="3.95" fill="#0000FF"/><circle cx="768" cy="1220.7" r="3.95" fill="#0000FF"/><circle cx="769.5" cy="1206.2" r="3.95" fill="#FFA500"/><circle cx="771.2" cy="1160.5" r="3.95" fill="#0000FF"/><circle cx="772.5" cy="1204.2" r="3.95" fill="#0000FF"/><circle cx="774" cy="1204.6" r="3.95" fill="#0000FF"/><circle cx="775.5" cy="1219.7" r="3.95" fill="#0000FF"/><circle cx="777.1" cy="1169.4" r="3.95" fill="#FFA500"/><circle cx="778.5" cy="1218.9" r="3.95" fill="#0000FF"/><circle cx="780" cy="1202.2" r="3.95" fill="#0000FF"/><circle cx="781.5" cy="1217.6" r="3.95" fill="#FFA500"/><circle cx="783" cy="1220.2" r="3.95" fill="#0000FF"/><circle cx="784.3" cy="1199.9" r="3.95" fill="#FFA500"/><circle cx="786" cy="1202.2" r="3.95" fill="#0000FF"/><circle cx="787.5" cy="1211.4" r="3.95" fill="#FFA500"/><circle cx="789" cy="1198.2" r="3.95" fill="#FFA500"/><circle cx="790.5" cy="1211.2" r="3.95" fill="#0000FF"/><circle cx="792.1" cy="1207.7" r="3.95" fill="#FFA500"/><circle cx="793.6" cy="1205.7" r="3.95" fill="#0000FF"/><circle cx="795.1" cy="1217" r="3.95" fill="#0000FF"/><circle cx="796.6" cy="1220.6" r="3.95" fill="#FFA500"/><circle cx="798.3" cy="1155.9" r="3.95" fill="#0000FF"/><circle cx="800" cy="1181.7" r="3.95" fill="#0000FF"/><circle cx="801.1" cy="1202.2" r="3.95" fill="#FFA500"/><circle cx="802.6" cy="1203.1" r="3.95" fill="#0000FF"/><circle cx="804.1" cy="1217.8" r="3.95" fill="#FFA500"/><circle cx="805.9" cy="1178.7" r="3.95" fill="#0000FF"/><circle cx="807.1" cy="1223.8" r="3.95" fill="#0000FF"/><circle cx="808.6" cy="1214.6" r="3.95" fill="#0000FF"/><circle cx="810.1" cy="1202.2" r="3.95" fill="#FFA500"/><circle cx="811.6" cy="1219.3" r="3.95" fill="#0000FF"/><circle cx="813.1" cy="1213.2" r="3.95" fill="#0000FF"/><circle cx="814.6" cy="1221.2" r="3.95" fill="#0000FF"/><circle cx="816.1" cy="1216" r="3.95" fill="#0000FF"/><circle cx="817.6" cy="1216.6" r="3.95" fill="#0000FF"/><circle cx="819.1" cy="1214.5" r="3.95" fill="#FFA500"/><circle cx="820.8" cy="1181.3" r="3.95" fill="#0000FF"/><circle cx="822.1" cy="1216.3" r="3.95" fill="#FFA500"/><circle cx="823.6" cy="1215.7" r="3.95" fill="#0000FF"/><circle cx="825.2" cy="1218.2" r="3.95" fill="#0000FF"/><circle cx="827.1" cy="1182.5" r="3.95" fill="#0000FF"/><circle cx="828.4" cy="1105.4" r="3.95" fill="#0000FF"/><circle cx="829.7" cy="1213.9" r="3.95" fill="#0000FF"/><circle cx="831.2" cy="1206.6" r="3.95" fill="#0000FF"/><circle cx="832.7" cy="1207.2" r="3.95" fill="#0000FF"/><circle cx="834.2" cy="1212.6" r="3.95" fill="#0000FF"/><circle cx="835.7" cy="1210.1" r="3.95" fill="#0000FF"/><circle cx="837.2" cy="1215.6" r="3.95" fill="#0000FF"/><circle cx="838.7" cy="1202.2" r="3.95" fill="#0000FF"/><circle cx="840.2" cy="1213.9" r="3.95" fill="#0000FF"/><circle cx="842" cy="1178.3" r="3.95" fill="#FFA500"/><circle cx="843.2" cy="1200.3" r="3.95" fill="#0000FF"/><circle cx="844.7" cy="1221.1" r="3.95" fill="#0000FF"/><circle cx="846.2" cy="1222.3" r="3.95" fill="#FFA500"/><circle cx="847.7" cy="1210.9" r="3.95" fill="#0000FF"/><circle cx="849.2" cy="1220.9" r="3.95" fill="#0000FF"/><circle cx="850.7" cy="1221" r="3.95" fill="#0000FF"/><circle cx="852.2" cy="1219.8" r="3.95" fill="#0000FF"/><circle cx="853.7" cy="1215.4" r="3.95" fill="#0000FF"/><circle cx="855.2" cy="1220.7" r="3.95" fill="#0000FF"/><circle cx="857.2" cy="1197.8" r="3.95" fill="#0000FF"/><circle cx="858.2" cy="1218" r="3.95" fill="#0000FF"/><circle cx="859.8" cy="1214" r="3.95" fill="#FFA500"/><circle cx="861.3" cy="1218.1" r="3.95" fill="#0000FF"/><circle cx="862.7" cy="1171.1" r="3.95" fill="#0000FF"/><circle cx="864.3" cy="1222.5" r="3.95" fill="#0000FF"/><circle cx="865.8" cy="1219.1" r="3.95" fill="#0000FF"/><circle cx="867.3" cy="1219.1" r="3.95" fill="#0000FF"/><circle cx="869.1" cy="1195.7" r="3.95" fill="#FFA500"/><circle cx="870.3" cy="1202.2" r="3.95" fill="#0000FF"/><circle cx="871.8" cy="1220.9" r="3.95" fill="#0000FF"/><circle cx="873.3" cy="1209.8" r="3.95" fill="#FFA500"/><circle cx="874.8" cy="1210.2" r="3.95" fill="#FFA500"/><circle cx="876.3" cy="1218" r="3.95" fill="#0000FF"/><circle cx="877.8" cy="1219.1" r="3.95" fill="#0000FF"/><circle cx="879.3" cy="1219.5" r="3.95" fill="#FFA500"/><circle cx="880.9" cy="1179.6" r="3.95" fill="#0000FF"/><circle cx="882.3" cy="1222.8" r="3.95" fill="#0000FF"/><circle cx="883.8" cy="1218.5" r="3.95" fill="#0000FF"/><circle cx="885.3" cy="1215.1" r="3.95" fill="#0000FF"/><circle cx="886.9" cy="1194" r="3.95" fill="#FFA500"/><circle cx="888.3" cy="1223.7" r="3.95" fill="#FFA500"/><circle cx="889.8" cy="1208.5" r="3.95" fill="#FFA500"/><circle cx="891.3" cy="1215.6" r="3.95" fill="#FFA500"/><circle cx="892.9" cy="1203.7" r="3.95" fill="#0000FF"/><circle cx="894.4" cy="1215" r="3.95" fill="#0000FF"/><circle cx="895.9" cy="1217.9" r="3.95" fill="#0000FF"/><circle cx="897.4" cy="1211.9" r="3.95" fill="#0000FF"/><circle cx="898.9" cy="1222.7" r="3.95" fill="#FFA500"/><circle cx="900.4" cy="1208.1" r="3.95" fill="#FFA500"/><circle cx="901.9" cy="1222.1" r="3.95" fill="#0000FF"/><circle cx="903.4" cy="1210.8" r="3.95" fill="#0000FF"/><circle cx="904.9" cy="1218.7" r="3.95" fill="#FFA500"/><circle cx="906.4" cy="1216.2" r="3.95" fill="#0000FF"/><circle cx="907.2" cy="1195.2" r="3.95" fill="#FFA500"/><circle cx="909.4" cy="1219.5" r="3.95" fill="#0000FF"/><circle cx="911" cy="1188.5" r="3.95" fill="#0000FF"/><circle cx="912.4" cy="1217.3" r="3.95" fill="#0000FF"/><circle cx="913.9" cy="1220.1" r="3.95" fill="#FFA500"/><circle cx="915.4" cy="1219.2" r="3.95" fill="#0000FF"/><circle cx="916.9" cy="1218.5" r="3.95" fill="#0000FF"/><circle cx="918.4" cy="1214.5" r="3.95" fill="#0000FF"/><circle cx="919.9" cy="1209.2" r="3.95" fill="#0000FF"/><circle cx="921.4" cy="1218.2" r="3.95" fill="#FFA500"/><circle cx="922.9" cy="1208.9" r="3.95" fill="#FFA500"/><circle cx="924.6" cy="1197.4" r="3.95" fill="#0000FF"/><circle cx="926" cy="1202.4" r="3.95" fill="#0000FF"/><circle cx="927.5" cy="1208.5" r="3.95" fill="#FFA500"/><circle cx="929" cy="1214.7" r="3.95" fill="#0000FF"/><circle cx="930.5" cy="1204.7" r="3.95" fill="#0000FF"/><circle cx="932" cy="1210.1" r="3.95" fill="#FFA500"/><circle cx="933.5" cy="1221.2" r="3.95" fill="#FFA500"/><circle cx="935" cy="1202.4" r="3.95" fill="#0000FF"/><circle cx="936.8" cy="1203.3" r="3.95" fill="#0000FF"/><circle cx="938" cy="1212.2" r="3.95" fill="#0000FF"/><circle cx="939.5" cy="1224.4" r="3.95" fill="#0000FF"/><circle cx="941" cy="1215.1" r="3.95" fill="#0000FF"/><circle cx="942.5" cy="1222.4" r="3.95" fill="#0000FF"/><circle cx="944" cy="1222.3" r="3.95" fill="#0000FF"/><circle cx="945.5" cy="1220.1" r="3.95" fill="#0000FF"/><circle cx="947" cy="1215.3" r="3.95" fill="#0000FF"/><circle cx="948.5" cy="1210.4" r="3.95" fill="#0000FF"/><circle cx="950" cy="1211.7" r="3.95" fill="#FFA500"/><circle cx="951.5" cy="1219.3" r="3.95" fill="#0000FF"/><circle cx="953" cy="1213.7" r="3.95" fill="#FFA500"/><circle cx="954.6" cy="1185.1" r="3.95" fill="#FFA500"/><circle cx="956" cy="1219.1" r="3.95" fill="#0000FF"/><circle cx="957.5" cy="1210.7" r="3.95" fill="#0000FF"/><circle cx="959.1" cy="1215.8" r="3.95" fill="#FFA500"/><circle cx="960.6" cy="1188.9" r="3.95" fill="#0000FF"/><circle cx="962.1" cy="1223.7" r="3.95" fill="#0000FF"/><circle cx="963.6" cy="1219.1" r="3.95" fill="#0000FF"/><circle cx="965.1" cy="1220" r="3.95" fill="#FFA500"/><circle cx="966.6" cy="1214.7" r="3.95" fill="#FFA500"/><circle cx="968.1" cy="1203.6" r="3.95" fill="#0000FF"/><circle cx="969.9" cy="1184.2" r="3.95" fill="#0000FF"/><circle cx="971.1" cy="1209.7" r="3.95" fill="#0000FF"/><circle cx="972.6" cy="1215.4" r="3.95" fill="#FFA500"/><circle cx="974.1" cy="1215.3" r="3.95" fill="#0000FF"/><circle cx="975.6" cy="1221.1" r="3.95" fill="#0000FF"/><circle cx="977.1" cy="1207.7" r="3.95" fill="#FFA500"/><circle cx="978.6" cy="1217.5" r="3.95" fill="#0000FF"/><circle cx="980.1" cy="1213.2" r="3.95" fill="#0000FF"/><circle cx="981.6" cy="1219" r="3.95" fill="#FFA500"/><circle cx="983.1" cy="1219.1" r="3.95" fill="#FFA500"/><circle cx="984.6" cy="1217.4" r="3.95" fill="#0000FF"/><circle cx="986.4" cy="1196.9" r="3.95" fill="#FFA500"/><circle cx="987.6" cy="1204.2" r="3.95" fill="#0000FF"/><circle cx="989.1" cy="1208.5" r="3.95" fill="#0000FF"/><circle cx="990.6" cy="1211.7" r="3.95" fill="#FFA500"/><circle cx="992.3" cy="1186.4" r="3.95" fill="#0000FF"/><circle cx="993.7" cy="1215.7" r="3.95" fill="#0000FF"/><circle cx="995.2" cy="1208.2" r="3.95" fill="#0000FF"/><circle cx="996.7" cy="1211.3" r="3.95" fill="#0000FF"/><circle cx="998.2" cy="1217.1" r="3.95" fill="#FFA500"/><circle cx="999.7" cy="1220" r="3.95" fill="#0000FF"/><circle cx="1001.2" cy="1219.8" r="3.95" fill="#0000FF"/><circle cx="1002.7" cy="1216.1" r="3.95" fill="#FFA500"/><circle cx="1004.2" cy="1221.9" r="3.95" fill="#FFA500"/><circle cx="1005.7" cy="1219.5" r="3.95" fill="#0000FF"/><circle cx="1007.2" cy="1202.2" r="3.95" fill="#0000FF"/><circle cx="1008.7" cy="1216.8" r="3.95" fill="#0000FF"/><circle cx="1010.5" cy="1184.7" r="3.95" fill="#0000FF"/><circle cx="1011.8" cy="1180" r="3.95" fill="#FFA500"/><circle cx="1013.1" cy="1187.6" r="3.95" fill="#FFA500"/><circle cx="1014.7" cy="1218" r="3.95" fill="#0000FF"/><circle cx="1016.2" cy="1215.1" r="3.95" fill="#0000FF"/><circle cx="1017.7" cy="1219.9" r="3.95" fill="#0000FF"/><circle cx="1019" cy="1202.9" r="3.95" fill="#0000FF"/><circle cx="1020.7" cy="1217" r="3.95" fill="#0000FF"/><circle cx="1022.2" cy="1202.2" r="3.95" fill="#FFA500"/><circle cx="1023.7" cy="1223.2" r="3.95" fill="#0000FF"/><circle cx="1025.2" cy="1215.7" r="3.95" fill="#FFA500"/><circle cx="1026.6" cy="1202.9" r="3.95" fill="#0000FF"/><circle cx="1028.3" cy="1217.1" r="3.95" fill="#0000FF"/><circle cx="1029.6" cy="1205.4" r="3.95" fill="#0000FF"/><circle cx="1031.3" cy="1202.2" r="3.95" fill="#FFA500"/><circle cx="1032.8" cy="1221.6" r="3.95" fill="#0000FF"/><circle cx="1034.3" cy="1210.5" r="3.95" fill="#0000FF"/><circle cx="1035.8" cy="1211.6" r="3.95" fill="#0000FF"/><circle cx="1037.3" cy="1214.1" r="3.95" fill="#0000FF"/><circle cx="1038.8" cy="1219.6" r="3.95" fill="#0000FF"/><circle cx="1040.3" cy="1218.5" r="3.95" fill="#FFA500"/><circle cx="1041.8" cy="1211.9" r="3.95" fill="#FFA500"/><circle cx="1043.6" cy="1198.2" r="3.95" fill="#FFA500"/><circle cx="1044.8" cy="1222.3" r="3.95" fill="#0000FF"/><circle cx="1046.6" cy="1200.8" r="3.95" fill="#FFA500"/><circle cx="1047.8" cy="1217.2" r="3.95" fill="#0000FF"/><circle cx="1049.3" cy="1224" r="3.95" fill="#0000FF"/><circle cx="1050.8" cy="1219.6" r="3.95" fill="#0000FF"/><circle cx="1052.3" cy="1209.6" r="3.95" fill="#FFA500"/><circle cx="1053.8" cy="1215.2" r="3.95" fill="#0000FF"/><circle cx="1055.3" cy="1219.3" r="3.95" fill="#0000FF"/><circle cx="1056.8" cy="1219.7" r="3.95" fill="#FFA500"/><circle cx="1058.8" cy="1137.6" r="3.95" fill="#FFA500"/><circle cx="1059.9" cy="1216.6" r="3.95" fill="#FFA500"/><circle cx="1061.4" cy="1205.2" r="3.95" fill="#0000FF"/><circle cx="1062.9" cy="1220.1" r="3.95" fill="#FFA500"/><circle cx="1064.3" cy="1191" r="3.95" fill="#0000FF"/><circle cx="1065.9" cy="1219.8" r="3.95" fill="#FFA500"/><circle cx="1067.4" cy="1220.3" r="3.95" fill="#FFA500"/><circle cx="1068.9" cy="1211" r="3.95" fill="#FFA500"/><circle cx="1070.4" cy="1217.1" r="3.95" fill="#0000FF"/><circle cx="1071.9" cy="1221.1" r="3.95" fill="#FFA500"/><circle cx="1073.2" cy="1194.8" r="3.95" fill="#FFA500"/><circle cx="1074.9" cy="1217.1" r="3.95" fill="#0000FF"/><circle cx="1076.4" cy="1208.5" r="3.95" fill="#0000FF"/><circle cx="1077.9" cy="1195.7" r="3.95" fill="#0000FF"/><circle cx="1079.6" cy="1175.8" r="3.95" fill="#0000FF"/><circle cx="1081.3" cy="1200.8" r="3.95" fill="#0000FF"/><circle cx="1082.4" cy="1218.1" r="3.95" fill="#0000FF"/><circle cx="1083.9" cy="1211" r="3.95" fill="#FFA500"/><circle cx="1085.4" cy="1218.1" r="3.95" fill="#FFA500"/><circle cx="1086.9" cy="1218.9" r="3.95" fill="#0000FF"/><circle cx="1088.4" cy="1221.4" r="3.95" fill="#FFA500"/><circle cx="1089.9" cy="1217.7" r="3.95" fill="#0000FF"/><circle cx="1091.4" cy="1216.4" r="3.95" fill="#0000FF"/><circle cx="1093.1" cy="1205" r="3.95" fill="#FFA500"/><circle cx="1094.4" cy="1158.8" r="3.95" fill="#0000FF"/><circle cx="1096" cy="1217.4" r="3.95" fill="#FFA500"/><circle cx="1097.5" cy="1217.6" r="3.95" fill="#FFA500"/><circle cx="1099" cy="1216.8" r="3.95" fill="#0000FF"/><circle cx="1100.5" cy="1222.5" r="3.95" fill="#FFA500"/><circle cx="1102" cy="1207.9" r="3.95" fill="#FFA500"/><circle cx="1103.5" cy="1219" r="3.95" fill="#0000FF"/><circle cx="1105" cy="1219.2" r="3.95" fill="#FFA500"/><circle cx="1106.5" cy="1207.5" r="3.95" fill="#0000FF"/><circle cx="1108" cy="1219.6" r="3.95" fill="#0000FF"/><circle cx="1109.5" cy="1219.4" r="3.95" fill="#0000FF"/><circle cx="1111" cy="1204.8" r="3.95" fill="#0000FF"/><circle cx="1112.5" cy="1206.6" r="3.95" fill="#FFA500"/><circle cx="1114" cy="1218.3" r="3.95" fill="#0000FF"/><circle cx="1115.6" cy="1168.1" r="3.95" fill="#0000FF"/><circle cx="1117" cy="1222.2" r="3.95" fill="#0000FF"/><circle cx="1118.5" cy="1219.4" r="3.95" fill="#FFA500"/><circle cx="1120" cy="1214" r="3.95" fill="#0000FF"/><circle cx="1121.5" cy="1202.2" r="3.95" fill="#FFA500"/><circle cx="1123" cy="1222.1" r="3.95" fill="#0000FF"/><circle cx="1124.5" cy="1203.7" r="3.95" fill="#FFA500"/><circle cx="1126" cy="1209.4" r="3.95" fill="#FFA500"/><circle cx="1127.5" cy="1188" r="3.95" fill="#0000FF"/><circle cx="1129.1" cy="1216.7" r="3.95" fill="#0000FF"/><circle cx="1131.3" cy="1201.2" r="3.95" fill="#0000FF"/><circle cx="1132.1" cy="1207.8" r="3.95" fill="#0000FF"/><circle cx="1133.8" cy="1141" r="3.95" fill="#0000FF"/><circle cx="1135.1" cy="1221.4" r="3.95" fill="#FFA500"/><circle cx="1136.6" cy="1213.7" r="3.95" fill="#0000FF"/><circle cx="1138.1" cy="1220.2" r="3.95" fill="#FFA500"/><circle cx="1139.6" cy="1220.9" r="3.95" fill="#0000FF"/><circle cx="1141" cy="1180" r="3.95" fill="#0000FF"/><circle cx="1142.7" cy="1199.9" r="3.95" fill="#FFA500"/><circle cx="1144.1" cy="1218.2" r="3.95" fill="#0000FF"/><circle cx="1145.6" cy="1215" r="3.95" fill="#0000FF"/><circle cx="1147.1" cy="1211.4" r="3.95" fill="#FFA500"/><circle cx="1148.6" cy="1215.6" r="3.95" fill="#0000FF"/><circle cx="1150.1" cy="1218.7" r="3.95" fill="#FFA500"/><circle cx="1151.6" cy="1219.2" r="3.95" fill="#0000FF"/><circle cx="1153.3" cy="1183.8" r="3.95" fill="#FFA500"/><circle cx="1154.6" cy="1221.7" r="3.95" fill="#0000FF"/><circle cx="1156.1" cy="1219.9" r="3.95" fill="#FFA500"/><circle cx="1157.6" cy="1220.1" r="3.95" fill="#0000FF"/><circle cx="1159.1" cy="1211.4" r="3.95" fill="#FFA500"/><circle cx="1160.7" cy="1218.2" r="3.95" fill="#FFA500"/><circle cx="1162.2" cy="1218.4" r="3.95" fill="#0000FF"/><circle cx="1163.7" cy="1214.1" r="3.95" fill="#FFA500"/><circle cx="1165.2" cy="1202.5" r="3.95" fill="#FFA500"/><circle cx="1166.7" cy="1217.1" r="3.95" fill="#0000FF"/><circle cx="1168.2" cy="1221.9" r="3.95" fill="#0000FF"/><circle cx="1169.7" cy="1216.8" r="3.95" fill="#FFA500"/><circle cx="1171.2" cy="1213.7" r="3.95" fill="#FFA500"/><circle cx="1172.7" cy="1202.2" r="3.95" fill="#FFA500"/><circle cx="1174.2" cy="1220.2" r="3.95" fill="#FFA500"/><circle cx="1175.7" cy="1224.2" r="3.95" fill="#0000FF"/><circle cx="1177.2" cy="1203.6" r="3.95" fill="#0000FF"/><circle cx="1178.7" cy="1215.9" r="3.95" fill="#FFA500"/><circle cx="1180.2" cy="1214.1" r="3.95" fill="#0000FF"/><circle cx="1181.7" cy="1222" r="3.95" fill="#FFA500"/><circle cx="1183.2" cy="1215.1" r="3.95" fill="#FFA500"/><circle cx="1184.7" cy="1214.7" r="3.95" fill="#FFA500"/><circle cx="1186.2" cy="1215.3" r="3.95" fill="#0000FF"/><circle cx="1187.7" cy="1220.2" r="3.95" fill="#0000FF"/><circle cx="1189.3" cy="1179.6" r="3.95" fill="#FFA500"/><circle cx="1190.7" cy="1222.7" r="3.95" fill="#FFA500"/><circle cx="1192.2" cy="1216.9" r="3.95" fill="#0000FF"/><circle cx="1193.8" cy="1220.4" r="3.95" fill="#FFA500"/><circle cx="1195.3" cy="1214.8" r="3.95" fill="#FFA500"/><circle cx="1196.8" cy="1219.4" r="3.95" fill="#0000FF"/><circle cx="1198.3" cy="1223" r="3.95" fill="#0000FF"/><circle cx="1199.8" cy="1223.1" r="3.95" fill="#FFA500"/><circle cx="1201.6" cy="1199.1" r="3.95" fill="#FFA500"/><circle cx="1202.8" cy="1212.9" r="3.95" fill="#0000FF"/><circle cx="1204.3" cy="1218.5" r="3.95" fill="#0000FF"/><circle cx="1205.8" cy="1216.5" r="3.95" fill="#0000FF"/><circle cx="1207.5" cy="1200.8" r="3.95" fill="#FFA500"/><circle cx="1208.8" cy="1216.3" r="3.95" fill="#0000FF"/><circle cx="1210.3" cy="1215.4" r="3.95" fill="#0000FF"/><circle cx="1211.8" cy="1206.2" r="3.95" fill="#FFA500"/><circle cx="1213.3" cy="1215.7" r="3.95" fill="#FFA500"/><circle cx="1214.8" cy="1216.5" r="3.95" fill="#0000FF"/><circle cx="1216.3" cy="1214.9" r="3.95" fill="#0000FF"/><circle cx="1217.8" cy="1222.1" r="3.95" fill="#0000FF"/><circle cx="1219.3" cy="1214.9" r="3.95" fill="#0000FF"/><circle cx="1220.8" cy="1217.4" r="3.95" fill="#FFA500"/><circle cx="1222.3" cy="1202.2" r="3.95" fill="#0000FF"/><circle cx="1224" cy="1173.2" r="3.95" fill="#0000FF"/><circle cx="1225.3" cy="1220.7" r="3.95" fill="#0000FF"/><circle cx="1226.9" cy="1222.4" r="3.95" fill="#0000FF"/><circle cx="1227.9" cy="1199.9" r="3.95" fill="#FFA500"/><circle cx="1229.9" cy="1220.8" r="3.95" fill="#FFA500"/><circle cx="1231.4" cy="1215.1" r="3.95" fill="#FFA500"/><circle cx="1232.9" cy="1200.3" r="3.95" fill="#FFA500"/><circle cx="1234.4" cy="1219.2" r="3.95" fill="#FFA500"/><circle cx="1235.9" cy="1223.1" r="3.95" fill="#FFA500"/><circle cx="1237.4" cy="1214.5" r="3.95" fill="#FFA500"/><circle cx="1238.9" cy="1213.4" r="3.95" fill="#FFA500"/><circle cx="1240.1" cy="1166.4" r="3.95" fill="#FFA500"/><circle cx="1241.9" cy="1217.1" r="3.95" fill="#FFA500"/><circle cx="1243.5" cy="1099.5" r="3.95" fill="#0000FF"/><circle cx="1244.9" cy="1217.7" r="3.95" fill="#0000FF"/><circle cx="1246.4" cy="1220.5" r="3.95" fill="#FFA500"/><circle cx="1247.9" cy="1211.8" r="3.95" fill="#0000FF"/><circle cx="1249.4" cy="1211.1" r="3.95" fill="#FFA500"/><circle cx="1250.9" cy="1223.2" r="3.95" fill="#0000FF"/><circle cx="1252.4" cy="1216.4" r="3.95" fill="#0000FF"/><circle cx="1253.9" cy="1221.2" r="3.95" fill="#0000FF"/><circle cx="1255.4" cy="1217.7" r="3.95" fill="#FFA500"/><circle cx="1256.9" cy="1219.8" r="3.95" fill="#0000FF"/><circle cx="1258.4" cy="1220.1" r="3.95" fill="#0000FF"/><circle cx="1260" cy="1171.5" r="3.95" fill="#0000FF"/><circle cx="1261.7" cy="1096.1" r="3.95" fill="#0000FF"/><circle cx="1263" cy="1221.2" r="3.95" fill="#FFA500"/><circle cx="1264.5" cy="1220.9" r="3.95" fill="#0000FF"/><circle cx="1266" cy="1202.2" r="3.95" fill="#FFA500"/><circle cx="1267.5" cy="1211.6" r="3.95" fill="#FFA500"/><circle cx="1268.9" cy="1196.1" r="3.95" fill="#0000FF"/><circle cx="1270.5" cy="1211.6" r="3.95" fill="#0000FF"/><circle cx="1272" cy="1208.5" r="3.95" fill="#0000FF"/><circle cx="1273.5" cy="1222.9" r="3.95" fill="#FFA500"/><circle cx="1275" cy="1219.6" r="3.95" fill="#0000FF"/><circle cx="1276.5" cy="1223.9" r="3.95" fill="#0000FF"/><circle cx="1278.3" cy="1192.7" r="3.95" fill="#0000FF"/><circle cx="1279.5" cy="1221.1" r="3.95" fill="#FFA500"/><circle cx="1281" cy="1215" r="3.95" fill="#0000FF"/><circle cx="1282.5" cy="1220.5" r="3.95" fill="#FFA500"/><circle cx="1284" cy="1222.8" r="3.95" fill="#0000FF"/><circle cx="1285.5" cy="1202.2" r="3.95" fill="#FFA500"/><circle cx="1287.2" cy="1178.7" r="3.95" fill="#0000FF"/><circle cx="1288.5" cy="1208.1" r="3.95" fill="#FFA500"/><circle cx="1290.1" cy="1205" r="3.95" fill="#FFA500"/><circle cx="1291.5" cy="1221.7" r="3.95" fill="#FFA500"/><circle cx="1293.1" cy="1204.1" r="3.95" fill="#FFA500"/><circle cx="1294.6" cy="1218" r="3.95" fill="#0000FF"/><circle cx="1296.1" cy="1202.2" r="3.95" fill="#FFA500"/><circle cx="1297.6" cy="1214" r="3.95" fill="#0000FF"/><circle cx="1299.1" cy="1214.7" r="3.95" fill="#0000FF"/><circle cx="1300.6" cy="1219.2" r="3.95" fill="#0000FF"/><circle cx="1302.1" cy="1218.2" r="3.95" fill="#FFA500"/><circle cx="1303.7" cy="1189.7" r="3.95" fill="#0000FF"/><circle cx="1305.1" cy="1219.5" r="3.95" fill="#0000FF"/><circle cx="1306.6" cy="1210.1" r="3.95" fill="#0000FF"/><circle cx="1308.1" cy="1215.7" r="3.95" fill="#0000FF"/><circle cx="1309.6" cy="1161.4" r="3.95" fill="#0000FF"/><circle cx="1311.1" cy="1208.8" r="3.95" fill="#FFA500"/><circle cx="1312.6" cy="1220" r="3.95" fill="#FFA500"/><circle cx="1314.1" cy="1223" r="3.95" fill="#0000FF"/><circle cx="1315.6" cy="1209.9" r="3.95" fill="#FFA500"/><circle cx="1317.1" cy="1213.1" r="3.95" fill="#0000FF"/><circle cx="1318.6" cy="1203.6" r="3.95" fill="#FFA500"/><circle cx="1320.1" cy="1202.2" r="3.95" fill="#0000FF"/><circle cx="1321.6" cy="1221.6" r="3.95" fill="#FFA500"/><circle cx="1323.1" cy="1223.2" r="3.95" fill="#0000FF"/><circle cx="1324.6" cy="1212" r="3.95" fill="#0000FF"/><circle cx="1326.1" cy="1190.2" r="3.95" fill="#FFA500"/><circle cx="1327.7" cy="1218.8" r="3.95" fill="#FFA500"/><circle cx="1329.5" cy="1202.9" r="3.95" fill="#FFA500"/><circle cx="1330.7" cy="1207.4" r="3.95" fill="#FFA500"/><circle cx="1332.2" cy="1216.6" r="3.95" fill="#FFA500"/><circle cx="1333.7" cy="1218.9" r="3.95" fill="#FFA500"/><circle cx="1335.2" cy="1218.3" r="3.95" fill="#FFA500"/><circle cx="1336.7" cy="1202.2" r="3.95" fill="#FFA500"/><circle cx="1338.2" cy="1216.8" r="3.95" fill="#0000FF"/><circle cx="1339.7" cy="1217.9" r="3.95" fill="#FFA500"/><circle cx="1341.2" cy="1219.9" r="3.95" fill="#FFA500"/><circle cx="1342.7" cy="1207.1" r="3.95" fill="#FFA500"/><circle cx="1344.2" cy="1215.3" r="3.95" fill="#0000FF"/><circle cx="1345.7" cy="1220.4" r="3.95" fill="#FFA500"/><circle cx="1347.2" cy="1219.9" r="3.95" fill="#FFA500"/><circle cx="1348.7" cy="1221.6" r="3.95" fill="#FFA500"/><circle cx="1350.2" cy="1205.7" r="3.95" fill="#0000FF"/><circle cx="1351.7" cy="1212.1" r="3.95" fill="#FFA500"/><circle cx="1353.2" cy="1217.1" r="3.95" fill="#FFA500"/><circle cx="1354.7" cy="1220" r="3.95" fill="#0000FF"/><circle cx="1356.2" cy="1215.1" r="3.95" fill="#0000FF"/><circle cx="1357.7" cy="1219.6" r="3.95" fill="#FFA500"/><circle cx="1359.2" cy="1207.5" r="3.95" fill="#0000FF"/><circle cx="1360.8" cy="1217.8" r="3.95" fill="#FFA500"/><circle cx="1362.3" cy="1202.2" r="3.95" fill="#0000FF"/>
<line x1="1019.5" y1="1091.6" x2="1019.5" y2="1231.4" stroke="#000" stroke-width="1.2" stroke-dasharray="4 3.2"/>
<rect x="648.9" y="1091.6" width="741.7" height="139.8" fill="none" stroke="#000" stroke-width="1.1"/>
<line x1="674.7" y1="1231.4" x2="674.7" y2="1239.4" stroke="#000" stroke-width="1.1"/>
<text x="674.7" y="1262.3" font-size="13.7" text-anchor="middle">0</text>
<line x1="825.4" y1="1231.4" x2="825.4" y2="1239.4" stroke="#000" stroke-width="1.1"/>
<text x="825.4" y="1262.3" font-size="13.7" text-anchor="middle">100</text>
<line x1="975.8" y1="1231.4" x2="975.8" y2="1239.4" stroke="#000" stroke-width="1.1"/>
<text x="975.8" y="1262.3" font-size="13.7" text-anchor="middle">200</text>
<line x1="1126.2" y1="1231.4" x2="1126.2" y2="1239.4" stroke="#000" stroke-width="1.1"/>
<text x="1126.2" y="1262.3" font-size="13.7" text-anchor="middle">300</text>
<line x1="1276.7" y1="1231.4" x2="1276.7" y2="1239.4" stroke="#000" stroke-width="1.1"/>
<text x="1276.7" y="1262.3" font-size="13.7" text-anchor="middle">400</text>
<line x1="640.9" y1="1226.6" x2="648.9" y2="1226.6" stroke="#000" stroke-width="1.1"/>
<text x="629.5" y="1226.6" font-size="13.7" text-anchor="middle" transform="rotate(-90 629.5 1226.6)">0</text>
<line x1="640.9" y1="1193.7" x2="648.9" y2="1193.7" stroke="#000" stroke-width="1.1"/>
<text x="629.5" y="1193.7" font-size="13.7" text-anchor="middle" transform="rotate(-90 629.5 1193.7)">5</text>
<line x1="640.9" y1="1160.8" x2="648.9" y2="1160.8" stroke="#000" stroke-width="1.1"/>
<text x="629.5" y="1160.8" font-size="13.7" text-anchor="middle" transform="rotate(-90 629.5 1160.8)">10</text>
<line x1="640.9" y1="1127.8" x2="648.9" y2="1127.8" stroke="#000" stroke-width="1.1"/>
<text x="629.5" y="1127.8" font-size="13.7" text-anchor="middle" transform="rotate(-90 629.5 1127.8)">15</text>
<line x1="640.9" y1="1094.9" x2="648.9" y2="1094.9" stroke="#000" stroke-width="1.1"/>
<text x="629.5" y="1094.9" font-size="13.7" text-anchor="middle" transform="rotate(-90 629.5 1094.9)">20</text>
<text x="594.2" y="1161.5" font-size="14.1" text-anchor="middle" transform="rotate(-90 594.2 1161.5)">Survival time (years)</text>
<text x="1019.5" y="1295.3" font-size="14.1" text-anchor="middle">Patients (increasing risk socre)</text>
<g fill="#FFA500">
<circle cx="664.2" cy="1111.3" r="4.5"/>
</g>
<g fill="#0000FF">
<circle cx="664.2" cy="1131.9" r="4.5"/>
</g>
<text x="679.6" y="1117.4" font-size="16.3">Dead</text>
<text x="679.6" y="1137.6" font-size="16.3">Alive</text>
</g>
<g id="panel-h">
<text x="1409" y="970.8" font-size="41" font-weight="bold" font-family='"Liberation Serif", "Times New Roman", serif'>h</text>
<line x1="1507.7" y1="1269.6" x2="1912" y2="930.5" stroke="#000" stroke-width="1.2" stroke-dasharray="5.6 4"/>
<path d="M1522.7 1257.1 L1524.1 1257.1 L1524.1 1245 L1525.5 1245 L1525.5 1235 L1529.4 1235 L1529.4 1214.9 L1530.9 1214.9 L1530.9 1194.8 L1539.5 1194.8 L1539.5 1181.9 L1543.8 1181.9 L1543.8 1175.4 L1545.9 1175.4 L1545.9 1169.7 L1548.8 1169.7 L1548.8 1163.2 L1559.6 1163.2 L1559.6 1157.5 L1568.9 1157.5 L1568.9 1144.6 L1573.9 1144.6 L1573.9 1138.1 L1577.5 1138.1 L1577.5 1131.7 L1584.7 1131.7 L1584.7 1125.9 L1589 1125.9 L1589 1113.7 L1601.2 1113.7 L1601.2 1107.3 L1611.9 1107.3 L1611.9 1101.5 L1614.8 1101.5 L1614.8 1089.3 L1626.3 1089.3 L1626.3 1082.9 L1628.4 1082.9 L1628.3 1082.8 L1628.3 1077.1 L1637.6 1077.1 L1637.6 1071.5 L1640.5 1071.5 L1640.5 1065 L1642.4 1065 L1642.4 1059 L1661.5 1059 L1661.5 1052.9 L1693.9 1052.9 L1693.9 1047.2 L1701.2 1047.2 L1701.2 1040.7 L1710.1 1040.7 L1710.1 1034.3 L1719.8 1034.3 L1719.8 1027.8 L1729.5 1027.8 L1729.5 1022.1 L1733.5 1022.1 L1733.5 1010 L1737.6 1010 L1737.6 1004.3 L1742.4 1004.3 L1742.4 998.6 L1756.2 998.6 L1756.2 992.2 L1763.5 992.2 L1763.5 986.5 L1765.1 986.5 L1765.1 980 L1767.5 980 L1767.5 973.6 L1794.2 973.6 L1794.2 967.9 L1799.1 967.9 L1799.1 961.4 L1801 961.4 L1801 955.3 L1827.9 955.3 L1827.9 949.3 L1879.7 949.3 L1879.7 942.8 L1896.5 942.8" fill="none" stroke="#00FF00" stroke-width="2.3" stroke-linejoin="miter"/>
<path d="M1522.7 1257.1 L1524.4 1250.8 L1524.4 1246.5 L1527.3 1246.5 L1527.3 1215.6 L1533 1215.6 L1533 1212.7 L1534.9 1212.7 L1534.9 1203.4 L1537.6 1203.4 L1537.6 1201.3 L1539.9 1201.3 L1539.9 1197.7 L1542.3 1197.7 L1542.3 1194.8 L1545.2 1194.8 L1545.2 1192.4 L1548.1 1192.4 L1548.1 1190.5 L1556.7 1190.5 L1556.7 1188.3 L1559.1 1188.3 L1559.1 1183.3 L1567.4 1183.3 L1567.4 1170.1 L1570.3 1170.1 L1570.3 1167.5 L1573.2 1167.5 L1573.2 1161.1 L1581.8 1161.1 L1581.8 1158.9 L1584.4 1158.9 L1584.4 1148.6 L1590.1 1148.6 L1590.1 1141.7 L1592.6 1141.7 L1592.6 1136.7 L1597.6 1136.7 L1597.6 1134.5 L1606.9 1134.5 L1606.9 1130.9 L1615.5 1130.9 L1615.5 1125.9 L1618.8 1125.9 L1618.8 1113 L1622.7 1113 L1622.7 1110.1 L1626.3 1110.1 L1626.3 1108.4 L1634.2 1108.4 L1634.2 1106.5 L1636.3 1106.5 L1636.3 1097.9 L1639.5 1097.9 L1639.5 1095.1 L1644.9 1095.1 L1644.9 1091.5 L1660 1091.5 L1660 1085 L1669.1 1085 L1668.8 1084.9 L1668.8 1076.3 L1677.7 1076.3 L1677.7 1073.9 L1680.9 1073.9 L1680.9 1071.5 L1683.4 1071.5 L1683.4 1065.8 L1686.6 1065.8 L1686.6 1059.7 L1695.8 1059.7 L1695.8 1049.6 L1701.2 1049.6 L1701.2 1040.7 L1705.2 1040.7 L1705.2 1038.3 L1708.1 1038.3 L1708.1 1034.3 L1710.9 1034.3 L1710.9 1028.6 L1714.1 1028.6 L1714.1 1025.7 L1719.8 1025.7 L1719.8 1022.9 L1723 1022.9 L1723 1016.9 L1738.4 1016.9 L1738.4 1010.8 L1748.1 1010.8 L1748.1 1005.9 L1753.8 1005.9 L1753.8 1003.8 L1766.7 1003.8 L1766.7 996.2 L1773.2 996.2 L1773.2 994.6 L1776.1 994.6 L1776.1 986.2 L1778.9 986.2 L1778.9 984.6 L1788.6 984.6 L1788.6 980.8 L1791.8 980.8 L1791.8 976 L1804.8 976 L1804.8 974.4 L1824.2 974.4 L1824.2 971.9 L1826.6 971.9 L1826.6 968.4 L1839.6 968.4 L1839.6 965.5 L1859 965.5 L1859 963 L1869.5 963 L1869.5 959.8 L1873.5 959.8 L1873.5 958.7 L1879.2 958.7 L1879.2 954.9 L1889.7 954.9 L1889.7 950.9 L1893.3 950.9 L1893.3 946.9 L1896.5 946.9 L1896.5 942.8" fill="none" stroke="#0000FF" stroke-width="2.3" stroke-linejoin="miter"/>
<path d="M1522.2 1257.1 L1522.2 1228.2 L1528.7 1228.2 L1528.7 1219.5 L1540.9 1219.5 L1540.9 1207.7 L1548.1 1207.7 L1548.1 1206.7 L1554.2 1206.7 L1554.2 1202.4 L1567.2 1202.4 L1567.2 1194.1 L1573.9 1194.1 L1573.9 1192.4 L1580.7 1192.4 L1580.7 1177.6 L1587.5 1177.6 L1587.5 1158.9 L1594.3 1158.9 L1594.3 1135.3 L1601.2 1135.3 L1601.2 1122.8 L1608.3 1122.8 L1608.3 1121.9 L1622 1121.9 L1622 1110.9 L1629.2 1110.9 L1629.2 1109.7 L1636.8 1109.7 L1636.8 1103.4 L1644.2 1103.4 L1644.2 1092.2 L1659.3 1092.2 L1659.1 1092 L1659.1 1066.3 L1681.4 1066.3 L1681.4 1059.7 L1688.7 1059.7 L1688.7 1049.6 L1697.1 1049.6 L1697.1 1048 L1704.4 1048 L1704.4 1045.6 L1711.4 1045.6 L1711.4 1031.5 L1719.3 1031.5 L1719.3 1013.2 L1734.3 1013.2 L1734.3 1004.6 L1742.1 1004.6 L1742.1 999.8 L1749.7 999.8 L1749.7 992.2 L1773.5 992.2 L1773.5 986.8 L1797.1 986.8 L1797.1 973.6 L1805.6 973.6 L1805.6 972.3 L1813.7 972.3 L1813.7 969.5 L1837.6 969.5 L1837.6 962.6 L1846 962.6 L1846 955.3 L1854.1 955.3 L1854.1 954.1 L1863 954.1 L1863 952.8 L1879.7 952.8 L1879.7 950.4 L1897 950.4 L1897 942.8" fill="none" stroke="#FF0000" stroke-width="2.3" stroke-linejoin="miter"/>
<rect x="1507.7" y="930.5" width="404.3" height="339.1" fill="none" stroke="#000" stroke-width="1.5"/>
<line x1="1522.6" y1="1269.6" x2="1522.6" y2="1280.4" stroke="#000" stroke-width="1.4"/>
<text x="1522.6" y="1309.3" font-size="17.8" text-anchor="middle">0.0</text>
<line x1="1496.9" y1="1257.3" x2="1507.7" y2="1257.3" stroke="#000" stroke-width="1.4"/>
<text x="1481.8" y="1257.3" font-size="17.8" text-anchor="middle" transform="rotate(-90 1481.8 1257.3)">0.0</text>
<line x1="1597.4" y1="1269.6" x2="1597.4" y2="1280.4" stroke="#000" stroke-width="1.4"/>
<text x="1597.4" y="1309.3" font-size="17.8" text-anchor="middle">0.2</text>
<line x1="1496.9" y1="1194.4" x2="1507.7" y2="1194.4" stroke="#000" stroke-width="1.4"/>
<text x="1481.8" y="1194.4" font-size="17.8" text-anchor="middle" transform="rotate(-90 1481.8 1194.4)">0.2</text>
<line x1="1672.2" y1="1269.6" x2="1672.2" y2="1280.4" stroke="#000" stroke-width="1.4"/>
<text x="1672.2" y="1309.3" font-size="17.8" text-anchor="middle">0.4</text>
<line x1="1496.9" y1="1131.6" x2="1507.7" y2="1131.6" stroke="#000" stroke-width="1.4"/>
<text x="1481.8" y="1131.6" font-size="17.8" text-anchor="middle" transform="rotate(-90 1481.8 1131.6)">0.4</text>
<line x1="1746.9" y1="1269.6" x2="1746.9" y2="1280.4" stroke="#000" stroke-width="1.4"/>
<text x="1746.9" y="1309.3" font-size="17.8" text-anchor="middle">0.6</text>
<line x1="1496.9" y1="1068.7" x2="1507.7" y2="1068.7" stroke="#000" stroke-width="1.4"/>
<text x="1481.8" y="1068.7" font-size="17.8" text-anchor="middle" transform="rotate(-90 1481.8 1068.7)">0.6</text>
<line x1="1821.7" y1="1269.6" x2="1821.7" y2="1280.4" stroke="#000" stroke-width="1.4"/>
<text x="1821.7" y="1309.3" font-size="17.8" text-anchor="middle">0.8</text>
<line x1="1496.9" y1="1005.9" x2="1507.7" y2="1005.9" stroke="#000" stroke-width="1.4"/>
<text x="1481.8" y="1005.9" font-size="17.8" text-anchor="middle" transform="rotate(-90 1481.8 1005.9)">0.8</text>
<line x1="1896.5" y1="1269.6" x2="1896.5" y2="1280.4" stroke="#000" stroke-width="1.4"/>
<text x="1896.5" y="1309.3" font-size="17.8" text-anchor="middle">1.0</text>
<line x1="1496.9" y1="943" x2="1507.7" y2="943" stroke="#000" stroke-width="1.4"/>
<text x="1481.8" y="943" font-size="17.8" text-anchor="middle" transform="rotate(-90 1481.8 943)">1.0</text>
<text x="1710" y="1352.1" font-size="17.8" text-anchor="middle">1−Specificity</text>
<text x="1439.2" y="1100" font-size="17.8" text-anchor="middle" transform="rotate(-90 1439.2 1100)">Sensitivity</text>
<line x1="1680" y1="1205.2" x2="1713" y2="1205.2" stroke="#00FF00" stroke-width="2.3"/>
<text x="1728.7" y="1212.4" font-size="17.8">AUC at 1 years: 0.693</text>
<line x1="1680" y1="1227.2" x2="1713" y2="1227.2" stroke="#0000FF" stroke-width="2.3"/>
<text x="1728.7" y="1234.4" font-size="17.8">AUC at 3 years: 0.642</text>
<line x1="1680" y1="1249.1" x2="1713" y2="1249.1" stroke="#FF0000" stroke-width="2.3"/>
<text x="1728.7" y="1256.3" font-size="17.8">AUC at 5 years: 0.642</text>
</g>
</svg>
</body></html>
